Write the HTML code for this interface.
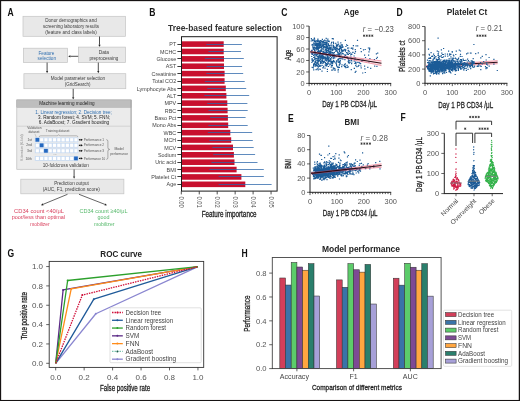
<!DOCTYPE html>
<html><head><meta charset="utf-8"><title>Figure</title>
<style>html,body{margin:0;padding:0;background:#fff;overflow:hidden}svg{display:block;will-change:transform}text{font-family:"Liberation Sans",sans-serif}</style>
</head><body>
<svg width="520" height="401" viewBox="0 0 520 401" font-family='"Liberation Sans", sans-serif'>
<rect x="0" y="0" width="520" height="401" fill="#161313"/>
<rect x="1.15" y="1.15" width="517.6" height="398.8" fill="#fff"/>
<text x="7.40" y="15.50" font-size="10.2" font-weight="bold" fill="#111" textLength="6.19" lengthAdjust="spacingAndGlyphs">A</text>
<text x="149.30" y="15.60" font-size="10.2" font-weight="bold" fill="#111" textLength="6.19" lengthAdjust="spacingAndGlyphs">B</text>
<text x="281.30" y="15.60" font-size="10.2" font-weight="bold" fill="#111" textLength="6.19" lengthAdjust="spacingAndGlyphs">C</text>
<text x="396.60" y="15.50" font-size="10.2" font-weight="bold" fill="#111" textLength="6.19" lengthAdjust="spacingAndGlyphs">D</text>
<text x="288.00" y="121.50" font-size="10.2" font-weight="bold" fill="#111" textLength="5.72" lengthAdjust="spacingAndGlyphs">E</text>
<text x="400.60" y="120.60" font-size="10.2" font-weight="bold" fill="#111" textLength="5.23" lengthAdjust="spacingAndGlyphs">F</text>
<text x="7.50" y="256.50" font-size="10.2" font-weight="bold" fill="#111" textLength="6.66" lengthAdjust="spacingAndGlyphs">G</text>
<text x="241.40" y="256.60" font-size="10.2" font-weight="bold" fill="#111" textLength="6.19" lengthAdjust="spacingAndGlyphs">H</text>
<rect x="23.00" y="16.30" width="102.50" height="20.00" fill="#e8e8e8" stroke="#c4c4c4" stroke-width="0.7" />
<text x="71.00" y="22.17" font-size="5.9" text-anchor="middle" fill="#3c3c3c" textLength="51.5" lengthAdjust="spacingAndGlyphs" >Donor demographics and</text>
<text x="71.00" y="28.27" font-size="5.9" text-anchor="middle" fill="#3c3c3c" textLength="56" lengthAdjust="spacingAndGlyphs" >screening laboratory results</text>
<text x="71.00" y="34.16" font-size="5.9" text-anchor="middle" fill="#3c3c3c" textLength="51.5" lengthAdjust="spacingAndGlyphs" >(feature and class labels)</text>
<line x1="99.50" y1="36.50" x2="99.50" y2="44.80" stroke="#222" stroke-width="0.8" /><path d="M99.50,47.00 L98.40,44.80 L100.60,44.80 Z" fill="#222"/>
<rect x="23.40" y="48.20" width="44.20" height="14.40" fill="#e8e8e8" stroke="#c4c4c4" stroke-width="0.7" />
<text x="46.50" y="54.56" font-size="5.9" text-anchor="middle" fill="#2f6fb0" textLength="15.9" lengthAdjust="spacingAndGlyphs" >Feature</text>
<text x="46.80" y="60.46" font-size="5.9" text-anchor="middle" fill="#2f6fb0" textLength="18.4" lengthAdjust="spacingAndGlyphs" >selection</text>
<rect x="78.40" y="47.10" width="47.20" height="15.50" fill="#e8e8e8" stroke="#c4c4c4" stroke-width="0.7" />
<text x="103.80" y="53.66" font-size="5.9" text-anchor="middle" fill="#3c3c3c" textLength="10.2" lengthAdjust="spacingAndGlyphs" >Data</text>
<text x="103.90" y="60.06" font-size="5.9" text-anchor="middle" fill="#3c3c3c" textLength="29" lengthAdjust="spacingAndGlyphs" >preprocessing</text>
<line x1="78.20" y1="56.30" x2="70.40" y2="56.30" stroke="#222" stroke-width="0.8" /><path d="M68.20,56.30 L70.40,55.20 L70.40,57.40 Z" fill="#222"/>
<line x1="47.10" y1="62.60" x2="47.10" y2="71.00" stroke="#222" stroke-width="0.8" /><path d="M47.10,73.20 L46.00,71.00 L48.20,71.00 Z" fill="#222"/>
<line x1="98.30" y1="62.60" x2="98.30" y2="71.00" stroke="#222" stroke-width="0.8" /><path d="M98.30,73.20 L97.20,71.00 L99.40,71.00 Z" fill="#222"/>
<rect x="23.90" y="73.70" width="101.90" height="15.00" fill="#e8e8e8" stroke="#c4c4c4" stroke-width="0.7" />
<text x="77.90" y="80.16" font-size="5.9" text-anchor="middle" fill="#3c3c3c" textLength="54.3" lengthAdjust="spacingAndGlyphs" >Model parameter selection</text>
<text x="77.60" y="86.27" font-size="5.9" text-anchor="middle" fill="#3c3c3c" textLength="25.6" lengthAdjust="spacingAndGlyphs" >(GridSearch)</text>
<line x1="73.20" y1="88.80" x2="73.20" y2="97.30" stroke="#222" stroke-width="0.8" /><path d="M73.20,99.50 L72.10,97.30 L74.30,97.30 Z" fill="#222"/>
<rect x="16.80" y="99.90" width="114.30" height="69.40" fill="#ebebeb" stroke="#bdbdbd" stroke-width="0.7" />
<rect x="16.80" y="99.90" width="114.30" height="7.40" fill="#bebebe" stroke="#a8a8a8" stroke-width="0.5" />
<line x1="131.10" y1="100.00" x2="131.10" y2="169.30" stroke="#a0a0a0" stroke-width="0.9" />
<text x="66.90" y="105.36" font-size="5.6" text-anchor="middle" fill="#222" textLength="55.4" lengthAdjust="spacingAndGlyphs" >Machine learning modeling</text>
<text x="73.60" y="113.90" font-size="5.7" text-anchor="middle" fill="#2f6fb0" textLength="76.6" lengthAdjust="spacingAndGlyphs" >1. Linear regression; 2. Decision tree;</text>
<text x="74.10" y="119.20" font-size="5.7" text-anchor="middle" fill="#222" textLength="72" lengthAdjust="spacingAndGlyphs" >3. Random forest; 4. SVM; 5. FNN;</text>
<text x="74.00" y="124.40" font-size="5.7" text-anchor="middle" fill="#222" textLength="70.4" lengthAdjust="spacingAndGlyphs" >6. AdaBoost; 7. Gradient boosting</text>
<line x1="17.00" y1="126.20" x2="131.00" y2="126.20" stroke="#c4c4c4" stroke-width="0.6" />
<text x="34.35" y="129.29" font-size="3.4" text-anchor="middle" fill="#555" textLength="14.3" lengthAdjust="spacingAndGlyphs" >Validation</text>
<text x="34.00" y="132.69" font-size="3.4" text-anchor="middle" fill="#555" textLength="11" lengthAdjust="spacingAndGlyphs" >dataset</text>
<text x="57.60" y="132.09" font-size="3.4" text-anchor="middle" fill="#555" textLength="23.7" lengthAdjust="spacingAndGlyphs" >Training dataset</text>
<line x1="34.90" y1="133.80" x2="36.30" y2="137.20" stroke="#888" stroke-width="0.35" />
<path d="M39.2,137 Q39.2,135.8 40.5,135.8 H57 Q58.3,135.8 58.6,134.6 Q58.9,135.8 60.2,135.8 H76.5 Q77.8,135.8 77.8,137" fill="none" stroke="#666" stroke-width="0.4"/>
<text transform="translate(22.20,147.60) rotate(-90)" x="0" y="1.05" font-size="3.0" text-anchor="middle" fill="#888" textLength="26.5" lengthAdjust="spacingAndGlyphs" >K iteration (K-fold)</text>
<text x="32.00" y="140.99" font-size="3.4" text-anchor="end" fill="#555" >1st</text>
<rect x="34.80" y="137.40" width="43.40" height="4.80" fill="#c9dbf2" stroke="none" stroke-width="1" />
<rect x="35.50" y="137.90" width="3.70" height="3.80" fill="#2468c0" stroke="none" stroke-width="1" />
<rect x="40.09" y="138.20" width="3.10" height="3.20" fill="#ffffff" stroke="none" stroke-width="1" />
<rect x="44.38" y="138.20" width="3.10" height="3.20" fill="#ffffff" stroke="none" stroke-width="1" />
<rect x="48.67" y="138.20" width="3.10" height="3.20" fill="#ffffff" stroke="none" stroke-width="1" />
<rect x="52.96" y="138.20" width="3.10" height="3.20" fill="#ffffff" stroke="none" stroke-width="1" />
<rect x="57.25" y="138.20" width="3.10" height="3.20" fill="#ffffff" stroke="none" stroke-width="1" />
<rect x="61.54" y="138.20" width="3.10" height="3.20" fill="#ffffff" stroke="none" stroke-width="1" />
<rect x="65.83" y="138.20" width="3.10" height="3.20" fill="#ffffff" stroke="none" stroke-width="1" />
<rect x="70.12" y="138.20" width="3.10" height="3.20" fill="#ffffff" stroke="none" stroke-width="1" />
<rect x="74.41" y="138.20" width="3.10" height="3.20" fill="#ffffff" stroke="none" stroke-width="1" />
<line x1="79.20" y1="139.80" x2="81.50" y2="139.80" stroke="#111" stroke-width="0.6" />
<path d="M82.8,139.80 L80.9,138.70 L80.9,140.90 Z M78.6,139.80 L80.2,138.90 L80.2,140.70 Z" fill="#111"/>
<text x="83.70" y="140.99" font-size="3.4" text-anchor="start" fill="#555" textLength="20.3" lengthAdjust="spacingAndGlyphs" >Performance 1</text>
<text x="32.00" y="146.49" font-size="3.4" text-anchor="end" fill="#555" >2nd</text>
<rect x="34.80" y="142.90" width="43.40" height="4.80" fill="#c9dbf2" stroke="none" stroke-width="1" />
<rect x="35.80" y="143.70" width="3.10" height="3.20" fill="#ffffff" stroke="none" stroke-width="1" />
<rect x="39.79" y="143.40" width="3.70" height="3.80" fill="#2468c0" stroke="none" stroke-width="1" />
<rect x="44.38" y="143.70" width="3.10" height="3.20" fill="#ffffff" stroke="none" stroke-width="1" />
<rect x="48.67" y="143.70" width="3.10" height="3.20" fill="#ffffff" stroke="none" stroke-width="1" />
<rect x="52.96" y="143.70" width="3.10" height="3.20" fill="#ffffff" stroke="none" stroke-width="1" />
<rect x="57.25" y="143.70" width="3.10" height="3.20" fill="#ffffff" stroke="none" stroke-width="1" />
<rect x="61.54" y="143.70" width="3.10" height="3.20" fill="#ffffff" stroke="none" stroke-width="1" />
<rect x="65.83" y="143.70" width="3.10" height="3.20" fill="#ffffff" stroke="none" stroke-width="1" />
<rect x="70.12" y="143.70" width="3.10" height="3.20" fill="#ffffff" stroke="none" stroke-width="1" />
<rect x="74.41" y="143.70" width="3.10" height="3.20" fill="#ffffff" stroke="none" stroke-width="1" />
<line x1="79.20" y1="145.30" x2="81.50" y2="145.30" stroke="#111" stroke-width="0.6" />
<path d="M82.8,145.30 L80.9,144.20 L80.9,146.40 Z M78.6,145.30 L80.2,144.40 L80.2,146.20 Z" fill="#111"/>
<text x="83.70" y="146.49" font-size="3.4" text-anchor="start" fill="#555" textLength="20.3" lengthAdjust="spacingAndGlyphs" >Performance 2</text>
<text x="32.00" y="151.99" font-size="3.4" text-anchor="end" fill="#555" >3rd</text>
<rect x="34.80" y="148.40" width="43.40" height="4.80" fill="#c9dbf2" stroke="none" stroke-width="1" />
<rect x="35.80" y="149.20" width="3.10" height="3.20" fill="#ffffff" stroke="none" stroke-width="1" />
<rect x="40.09" y="149.20" width="3.10" height="3.20" fill="#ffffff" stroke="none" stroke-width="1" />
<rect x="44.08" y="148.90" width="3.70" height="3.80" fill="#2468c0" stroke="none" stroke-width="1" />
<rect x="48.67" y="149.20" width="3.10" height="3.20" fill="#ffffff" stroke="none" stroke-width="1" />
<rect x="52.96" y="149.20" width="3.10" height="3.20" fill="#ffffff" stroke="none" stroke-width="1" />
<rect x="57.25" y="149.20" width="3.10" height="3.20" fill="#ffffff" stroke="none" stroke-width="1" />
<rect x="61.54" y="149.20" width="3.10" height="3.20" fill="#ffffff" stroke="none" stroke-width="1" />
<rect x="65.83" y="149.20" width="3.10" height="3.20" fill="#ffffff" stroke="none" stroke-width="1" />
<rect x="70.12" y="149.20" width="3.10" height="3.20" fill="#ffffff" stroke="none" stroke-width="1" />
<rect x="74.41" y="149.20" width="3.10" height="3.20" fill="#ffffff" stroke="none" stroke-width="1" />
<line x1="79.20" y1="150.80" x2="81.50" y2="150.80" stroke="#111" stroke-width="0.6" />
<path d="M82.8,150.80 L80.9,149.70 L80.9,151.90 Z M78.6,150.80 L80.2,149.90 L80.2,151.70 Z" fill="#111"/>
<text x="83.70" y="151.99" font-size="3.4" text-anchor="start" fill="#555" textLength="20.3" lengthAdjust="spacingAndGlyphs" >Performance 3</text>
<text x="32.00" y="159.59" font-size="3.4" text-anchor="end" fill="#555" >10th</text>
<rect x="34.80" y="156.00" width="43.40" height="4.80" fill="#c9dbf2" stroke="none" stroke-width="1" />
<rect x="35.80" y="156.80" width="3.10" height="3.20" fill="#ffffff" stroke="none" stroke-width="1" />
<rect x="40.09" y="156.80" width="3.10" height="3.20" fill="#ffffff" stroke="none" stroke-width="1" />
<rect x="44.38" y="156.80" width="3.10" height="3.20" fill="#ffffff" stroke="none" stroke-width="1" />
<rect x="48.67" y="156.80" width="3.10" height="3.20" fill="#ffffff" stroke="none" stroke-width="1" />
<rect x="52.96" y="156.80" width="3.10" height="3.20" fill="#ffffff" stroke="none" stroke-width="1" />
<rect x="57.25" y="156.80" width="3.10" height="3.20" fill="#ffffff" stroke="none" stroke-width="1" />
<rect x="61.54" y="156.80" width="3.10" height="3.20" fill="#ffffff" stroke="none" stroke-width="1" />
<rect x="65.83" y="156.80" width="3.10" height="3.20" fill="#ffffff" stroke="none" stroke-width="1" />
<rect x="70.12" y="156.80" width="3.10" height="3.20" fill="#ffffff" stroke="none" stroke-width="1" />
<rect x="74.11" y="156.50" width="3.70" height="3.80" fill="#2468c0" stroke="none" stroke-width="1" />
<line x1="79.20" y1="158.40" x2="81.50" y2="158.40" stroke="#111" stroke-width="0.6" />
<path d="M82.8,158.40 L80.9,157.30 L80.9,159.50 Z M78.6,158.40 L80.2,157.50 L80.2,159.30 Z" fill="#111"/>
<text x="83.70" y="159.59" font-size="3.4" text-anchor="start" fill="#555" textLength="21.5" lengthAdjust="spacingAndGlyphs" >Performance 10</text>
<text x="55.00" y="154.81" font-size="2.6" text-anchor="middle" fill="#777" >.....</text>
<path d="M106.3,139.6 Q107.9,139.6 107.9,141.4 V147.6 Q107.9,149.4 109.7,149.4 Q107.9,149.4 107.9,151.2 V157.6 Q107.9,159.4 106.3,159.4" fill="none" stroke="#555" stroke-width="0.45"/>
<text x="119.10" y="150.22" font-size="3.5" text-anchor="middle" fill="#555" textLength="9.4" lengthAdjust="spacingAndGlyphs" >Model</text>
<text x="119.20" y="154.82" font-size="3.5" text-anchor="middle" fill="#555" textLength="17.9" lengthAdjust="spacingAndGlyphs" >performance</text>
<text x="65.80" y="166.96" font-size="5.6" text-anchor="middle" fill="#3c3c3c" textLength="46.2" lengthAdjust="spacingAndGlyphs" >10-foldcross validation</text>
<line x1="74.10" y1="169.40" x2="74.10" y2="176.60" stroke="#222" stroke-width="0.8" /><path d="M74.10,178.80 L73.00,176.60 L75.20,176.60 Z" fill="#222"/>
<rect x="20.80" y="179.20" width="103.10" height="14.60" fill="#e8e8e8" stroke="#c4c4c4" stroke-width="0.7" />
<text x="71.50" y="185.36" font-size="5.6" text-anchor="middle" fill="#3c3c3c" textLength="34.6" lengthAdjust="spacingAndGlyphs" >Prediction output</text>
<text x="71.30" y="191.46" font-size="5.6" text-anchor="middle" fill="#3c3c3c" textLength="57.2" lengthAdjust="spacingAndGlyphs" >(AUC, F1, prediction score)</text>
<line x1="67.50" y1="194.30" x2="43.03" y2="204.36" stroke="#222" stroke-width="0.7" /><path d="M41.00,205.20 L42.62,203.35 L43.45,205.38 Z" fill="#222"/>
<line x1="79.00" y1="194.30" x2="104.95" y2="204.40" stroke="#222" stroke-width="0.7" /><path d="M107.00,205.20 L104.55,205.43 L105.35,203.38 Z" fill="#222"/>
<text x="39.00" y="212.57" font-size="6.2" text-anchor="middle" fill="#d9415e" textLength="49.8" lengthAdjust="spacingAndGlyphs" >CD34 count &lt;40/μL</text>
<text x="38.40" y="219.27" font-size="6.2" text-anchor="middle" fill="#d9415e" textLength="53.4" lengthAdjust="spacingAndGlyphs" >poor/less than optimal</text>
<text x="39.90" y="225.77" font-size="6.2" text-anchor="middle" fill="#d9415e" textLength="19.3" lengthAdjust="spacingAndGlyphs" >mobilizer</text>
<text x="103.50" y="212.57" font-size="6.2" text-anchor="middle" fill="#55b86a" textLength="48.1" lengthAdjust="spacingAndGlyphs" >CD34 count ≥40/μL</text>
<text x="103.50" y="219.27" font-size="6.2" text-anchor="middle" fill="#55b86a" textLength="12" lengthAdjust="spacingAndGlyphs" >good</text>
<text x="104.20" y="225.77" font-size="6.2" text-anchor="middle" fill="#55b86a" textLength="20.5" lengthAdjust="spacingAndGlyphs" >mobilizer</text>
<text x="168.00" y="30.79" font-size="8.4" text-anchor="start" fill="#333" font-weight="bold" textLength="114" lengthAdjust="spacingAndGlyphs" >Tree-based feature selection</text>
<rect x="181.60" y="41.30" width="42.10" height="5.60" fill="#c8102e" stroke="none" stroke-width="1" />
<line x1="206.30" y1="44.50" x2="241.90" y2="44.50" stroke="#2a64a8" stroke-width="1.0" stroke-opacity="0.75"/>
<line x1="177.40" y1="44.50" x2="181.60" y2="44.50" stroke="#222" stroke-width="0.9" />
<text x="176.20" y="46.23" font-size="6.1" text-anchor="end" fill="#444" textLength="6.89" lengthAdjust="spacingAndGlyphs" >PT</text>
<rect x="181.60" y="48.68" width="42.10" height="5.60" fill="#c8102e" stroke="none" stroke-width="1" />
<line x1="208.40" y1="51.50" x2="241.00" y2="51.50" stroke="#2a64a8" stroke-width="1.0" stroke-opacity="0.75"/>
<line x1="177.40" y1="51.50" x2="181.60" y2="51.50" stroke="#222" stroke-width="0.9" />
<text x="176.20" y="53.62" font-size="6.1" text-anchor="end" fill="#444" textLength="16.18" lengthAdjust="spacingAndGlyphs" >MCHC</text>
<rect x="181.60" y="56.06" width="42.40" height="5.60" fill="#c8102e" stroke="none" stroke-width="1" />
<line x1="204.80" y1="58.50" x2="243.80" y2="58.50" stroke="#2a64a8" stroke-width="1.0" stroke-opacity="0.75"/>
<line x1="177.40" y1="58.50" x2="181.60" y2="58.50" stroke="#222" stroke-width="0.9" />
<text x="176.20" y="60.99" font-size="6.1" text-anchor="end" fill="#444" textLength="19.79" lengthAdjust="spacingAndGlyphs" >Glucose</text>
<rect x="181.60" y="63.44" width="42.40" height="5.60" fill="#c8102e" stroke="none" stroke-width="1" />
<line x1="206.60" y1="66.50" x2="242.10" y2="66.50" stroke="#2a64a8" stroke-width="1.0" stroke-opacity="0.75"/>
<line x1="177.40" y1="66.50" x2="181.60" y2="66.50" stroke="#222" stroke-width="0.9" />
<text x="176.20" y="68.38" font-size="6.1" text-anchor="end" fill="#444" textLength="10.49" lengthAdjust="spacingAndGlyphs" >AST</text>
<rect x="181.60" y="70.82" width="43.00" height="5.60" fill="#c8102e" stroke="none" stroke-width="1" />
<line x1="206.30" y1="73.50" x2="243.20" y2="73.50" stroke="#2a64a8" stroke-width="1.0" stroke-opacity="0.75"/>
<line x1="177.40" y1="73.50" x2="181.60" y2="73.50" stroke="#222" stroke-width="0.9" />
<text x="176.20" y="75.76" font-size="6.1" text-anchor="end" fill="#444" textLength="24.58" lengthAdjust="spacingAndGlyphs" >Creatinine</text>
<rect x="181.60" y="78.20" width="43.00" height="5.60" fill="#c8102e" stroke="none" stroke-width="1" />
<line x1="204.80" y1="81.50" x2="244.70" y2="81.50" stroke="#2a64a8" stroke-width="1.0" stroke-opacity="0.75"/>
<line x1="177.40" y1="81.50" x2="181.60" y2="81.50" stroke="#222" stroke-width="0.9" />
<text x="176.20" y="83.14" font-size="6.1" text-anchor="end" fill="#444" textLength="23.98" lengthAdjust="spacingAndGlyphs" >Total CO2</text>
<rect x="181.60" y="85.58" width="44.20" height="5.60" fill="#c8102e" stroke="none" stroke-width="1" />
<line x1="207.20" y1="88.50" x2="246.20" y2="88.50" stroke="#2a64a8" stroke-width="1.0" stroke-opacity="0.75"/>
<line x1="177.40" y1="88.50" x2="181.60" y2="88.50" stroke="#222" stroke-width="0.9" />
<text x="176.20" y="90.52" font-size="6.1" text-anchor="end" fill="#444" textLength="39.38" lengthAdjust="spacingAndGlyphs" >Lymphocyte Abs</text>
<rect x="181.60" y="92.96" width="44.80" height="5.60" fill="#c8102e" stroke="none" stroke-width="1" />
<line x1="204.30" y1="95.50" x2="249.20" y2="95.50" stroke="#2a64a8" stroke-width="1.0" stroke-opacity="0.75"/>
<line x1="177.40" y1="95.50" x2="181.60" y2="95.50" stroke="#222" stroke-width="0.9" />
<text x="176.20" y="97.89" font-size="6.1" text-anchor="end" fill="#444" textLength="9.49" lengthAdjust="spacingAndGlyphs" >ALT</text>
<rect x="181.60" y="100.34" width="45.70" height="5.60" fill="#c8102e" stroke="none" stroke-width="1" />
<line x1="207.20" y1="103.50" x2="247.40" y2="103.50" stroke="#2a64a8" stroke-width="1.0" stroke-opacity="0.75"/>
<line x1="177.40" y1="103.50" x2="181.60" y2="103.50" stroke="#222" stroke-width="0.9" />
<text x="176.20" y="105.28" font-size="6.1" text-anchor="end" fill="#444" textLength="11.69" lengthAdjust="spacingAndGlyphs" >MPV</text>
<rect x="181.60" y="107.72" width="46.00" height="5.60" fill="#c8102e" stroke="none" stroke-width="1" />
<line x1="208.40" y1="110.50" x2="247.70" y2="110.50" stroke="#2a64a8" stroke-width="1.0" stroke-opacity="0.75"/>
<line x1="177.40" y1="110.50" x2="181.60" y2="110.50" stroke="#222" stroke-width="0.9" />
<text x="176.20" y="112.66" font-size="6.1" text-anchor="end" fill="#444" textLength="11.39" lengthAdjust="spacingAndGlyphs" >RBC</text>
<rect x="181.60" y="115.10" width="46.30" height="5.60" fill="#c8102e" stroke="none" stroke-width="1" />
<line x1="210.20" y1="117.50" x2="245.60" y2="117.50" stroke="#2a64a8" stroke-width="1.0" stroke-opacity="0.75"/>
<line x1="177.40" y1="117.50" x2="181.60" y2="117.50" stroke="#222" stroke-width="0.9" />
<text x="176.20" y="120.04" font-size="6.1" text-anchor="end" fill="#444" textLength="21.59" lengthAdjust="spacingAndGlyphs" >Baso Pct</text>
<rect x="181.60" y="122.48" width="46.60" height="5.60" fill="#c8102e" stroke="none" stroke-width="1" />
<line x1="208.40" y1="125.50" x2="247.70" y2="125.50" stroke="#2a64a8" stroke-width="1.0" stroke-opacity="0.75"/>
<line x1="177.40" y1="125.50" x2="181.60" y2="125.50" stroke="#222" stroke-width="0.9" />
<text x="176.20" y="127.42" font-size="6.1" text-anchor="end" fill="#444" textLength="23.99" lengthAdjust="spacingAndGlyphs" >Mono Abs</text>
<rect x="181.60" y="129.86" width="48.70" height="5.60" fill="#c8102e" stroke="none" stroke-width="1" />
<line x1="207.80" y1="132.50" x2="252.20" y2="132.50" stroke="#2a64a8" stroke-width="1.0" stroke-opacity="0.75"/>
<line x1="177.40" y1="132.50" x2="181.60" y2="132.50" stroke="#222" stroke-width="0.9" />
<text x="176.20" y="134.79" font-size="6.1" text-anchor="end" fill="#444" textLength="12.58" lengthAdjust="spacingAndGlyphs" >WBC</text>
<rect x="181.60" y="137.24" width="49.60" height="5.60" fill="#c8102e" stroke="none" stroke-width="1" />
<line x1="209.30" y1="140.50" x2="252.80" y2="140.50" stroke="#2a64a8" stroke-width="1.0" stroke-opacity="0.75"/>
<line x1="177.40" y1="140.50" x2="181.60" y2="140.50" stroke="#222" stroke-width="0.9" />
<text x="176.20" y="142.17" font-size="6.1" text-anchor="end" fill="#444" textLength="12.28" lengthAdjust="spacingAndGlyphs" >MCH</text>
<rect x="181.60" y="144.62" width="51.40" height="5.60" fill="#c8102e" stroke="none" stroke-width="1" />
<line x1="212.30" y1="147.50" x2="253.70" y2="147.50" stroke="#2a64a8" stroke-width="1.0" stroke-opacity="0.75"/>
<line x1="177.40" y1="147.50" x2="181.60" y2="147.50" stroke="#222" stroke-width="0.9" />
<text x="176.20" y="149.55" font-size="6.1" text-anchor="end" fill="#444" textLength="11.99" lengthAdjust="spacingAndGlyphs" >MCV</text>
<rect x="181.60" y="152.00" width="52.30" height="5.60" fill="#c8102e" stroke="none" stroke-width="1" />
<line x1="213.20" y1="154.50" x2="255.10" y2="154.50" stroke="#2a64a8" stroke-width="1.0" stroke-opacity="0.75"/>
<line x1="177.40" y1="154.50" x2="181.60" y2="154.50" stroke="#222" stroke-width="0.9" />
<text x="176.20" y="156.94" font-size="6.1" text-anchor="end" fill="#444" textLength="18.29" lengthAdjust="spacingAndGlyphs" >Sodium</text>
<rect x="181.60" y="159.38" width="52.90" height="5.60" fill="#c8102e" stroke="none" stroke-width="1" />
<line x1="211.40" y1="162.50" x2="257.50" y2="162.50" stroke="#2a64a8" stroke-width="1.0" stroke-opacity="0.75"/>
<line x1="177.40" y1="162.50" x2="181.60" y2="162.50" stroke="#222" stroke-width="0.9" />
<text x="176.20" y="164.31" font-size="6.1" text-anchor="end" fill="#444" textLength="20.98" lengthAdjust="spacingAndGlyphs" >Uric acid</text>
<rect x="181.60" y="166.76" width="55.00" height="5.60" fill="#c8102e" stroke="none" stroke-width="1" />
<line x1="209.30" y1="169.50" x2="263.80" y2="169.50" stroke="#2a64a8" stroke-width="1.0" stroke-opacity="0.75"/>
<line x1="177.40" y1="169.50" x2="181.60" y2="169.50" stroke="#222" stroke-width="0.9" />
<text x="176.20" y="171.69" font-size="6.1" text-anchor="end" fill="#444" textLength="9.59" lengthAdjust="spacingAndGlyphs" >BMI</text>
<rect x="181.60" y="174.14" width="59.80" height="5.60" fill="#c8102e" stroke="none" stroke-width="1" />
<line x1="218.60" y1="176.50" x2="263.80" y2="176.50" stroke="#2a64a8" stroke-width="1.0" stroke-opacity="0.75"/>
<line x1="177.40" y1="176.50" x2="181.60" y2="176.50" stroke="#222" stroke-width="0.9" />
<text x="176.20" y="179.07" font-size="6.1" text-anchor="end" fill="#444" textLength="24.88" lengthAdjust="spacingAndGlyphs" >Platelet Ct</text>
<rect x="181.60" y="181.52" width="63.70" height="5.60" fill="#c8102e" stroke="none" stroke-width="1" />
<line x1="218.60" y1="184.50" x2="271.60" y2="184.50" stroke="#2a64a8" stroke-width="1.0" stroke-opacity="0.75"/>
<line x1="177.40" y1="184.50" x2="181.60" y2="184.50" stroke="#222" stroke-width="0.9" />
<text x="176.20" y="186.45" font-size="6.1" text-anchor="end" fill="#444" textLength="9.6" lengthAdjust="spacingAndGlyphs" >Age</text>
<rect x="181.50" y="36.70" width="95.60" height="154.40" fill="none" stroke="#1a1a1a" stroke-width="1.0" />
<line x1="181.30" y1="191.20" x2="181.30" y2="194.40" stroke="#222" stroke-width="0.8" />
<text transform="translate(181.30,202.10) rotate(90)" x="0" y="2.20" font-size="6.3" text-anchor="middle" fill="#555" textLength="11.2" lengthAdjust="spacingAndGlyphs" >0.00</text>
<line x1="199.25" y1="191.20" x2="199.25" y2="194.40" stroke="#222" stroke-width="0.8" />
<text transform="translate(199.25,202.10) rotate(90)" x="0" y="2.20" font-size="6.3" text-anchor="middle" fill="#555" textLength="11.2" lengthAdjust="spacingAndGlyphs" >0.01</text>
<line x1="217.20" y1="191.20" x2="217.20" y2="194.40" stroke="#222" stroke-width="0.8" />
<text transform="translate(217.20,202.10) rotate(90)" x="0" y="2.20" font-size="6.3" text-anchor="middle" fill="#555" textLength="11.2" lengthAdjust="spacingAndGlyphs" >0.02</text>
<line x1="235.15" y1="191.20" x2="235.15" y2="194.40" stroke="#222" stroke-width="0.8" />
<text transform="translate(235.15,202.10) rotate(90)" x="0" y="2.20" font-size="6.3" text-anchor="middle" fill="#555" textLength="11.2" lengthAdjust="spacingAndGlyphs" >0.03</text>
<line x1="253.10" y1="191.20" x2="253.10" y2="194.40" stroke="#222" stroke-width="0.8" />
<text transform="translate(253.10,202.10) rotate(90)" x="0" y="2.20" font-size="6.3" text-anchor="middle" fill="#555" textLength="11.2" lengthAdjust="spacingAndGlyphs" >0.04</text>
<line x1="271.05" y1="191.20" x2="271.05" y2="194.40" stroke="#222" stroke-width="0.8" />
<text transform="translate(271.05,202.10) rotate(90)" x="0" y="2.20" font-size="6.3" text-anchor="middle" fill="#555" textLength="11.2" lengthAdjust="spacingAndGlyphs" >0.05</text>
<text x="229.15" y="216.87" font-size="8.2" text-anchor="middle" fill="#222" textLength="54.9" lengthAdjust="spacingAndGlyphs" stroke="#222" stroke-width="0.28">Feature importance</text>
<path d="M327.8 55.8h0M324.4 57.7h0M322.5 42.8h0M328.6 49.1h0M322.1 63.2h0M334.9 47.3h0M329.2 41.7h0M327.4 71.5h0M315.5 44.0h0M313.2 48.3h0M316.0 60.9h0M329.9 48.3h0M327.1 52.3h0M314.5 50.3h0M329.7 45.5h0M319.2 53.4h0M319.2 66.4h0M342.0 46.9h0M326.3 52.5h0M328.6 54.0h0M328.8 61.7h0M314.4 38.2h0M329.4 49.1h0M369.0 62.0h0M316.4 58.5h0M336.4 64.0h0M338.3 67.0h0M338.0 59.8h0M320.4 61.3h0M322.4 58.5h0M316.5 48.6h0M325.3 54.9h0M347.4 54.2h0M319.3 55.8h0M312.6 61.1h0M326.5 42.2h0M338.4 54.5h0M323.4 52.5h0M356.1 63.9h0M324.1 57.9h0M326.2 48.9h0M316.9 56.0h0M322.6 53.9h0M337.7 55.0h0M338.0 67.4h0M345.4 40.3h0M336.5 56.6h0M332.7 62.9h0M312.5 40.7h0M318.5 43.3h0M376.5 58.5h0M320.8 45.0h0M335.0 70.4h0M325.2 57.0h0M335.4 51.1h0M326.7 44.6h0M317.3 47.7h0M318.8 48.2h0M330.4 56.4h0M321.2 50.5h0M312.6 53.7h0M332.9 52.5h0M341.3 50.1h0M339.6 53.5h0M340.0 48.0h0M314.5 63.3h0M354.1 56.0h0M324.4 58.2h0M317.9 46.7h0M321.6 57.5h0M319.4 55.7h0M315.9 42.6h0M325.8 65.6h0M327.9 62.6h0M323.8 53.5h0M327.9 39.1h0M324.1 61.3h0M319.2 40.9h0M320.4 54.2h0M332.5 54.4h0M314.9 53.5h0M320.8 42.3h0M339.2 46.3h0M328.7 45.9h0M334.4 61.9h0M326.0 45.7h0M316.3 48.7h0M322.0 56.4h0M327.3 42.9h0M322.0 46.0h0M324.1 57.5h0M328.1 41.3h0M338.2 62.2h0M321.4 57.3h0M343.3 53.8h0M326.0 54.7h0M340.1 52.3h0M342.7 50.4h0M355.9 71.3h0M341.6 49.4h0M341.8 51.4h0M355.2 72.4h0M313.8 60.0h0M317.6 41.3h0M341.2 47.8h0M312.3 45.1h0M328.3 51.1h0M328.3 53.9h0M314.6 49.8h0M317.9 62.9h0M335.2 55.5h0M333.6 57.9h0M320.5 63.2h0M318.6 58.0h0M319.4 60.3h0M332.6 50.1h0M315.2 51.2h0M326.6 59.1h0M314.9 45.5h0M339.3 50.1h0M328.8 51.4h0M347.6 45.5h0M312.0 53.3h0M312.7 46.8h0M320.3 57.5h0M351.6 60.5h0M316.5 40.8h0M347.0 56.9h0M328.4 44.7h0M328.3 44.4h0M336.0 62.7h0M317.4 47.8h0M320.3 65.9h0M315.9 64.1h0M327.7 64.3h0M361.2 67.8h0M322.4 39.4h0M333.2 67.8h0M331.2 62.1h0M328.9 57.0h0M324.5 52.6h0M348.3 50.9h0M327.7 57.5h0M321.5 55.8h0M343.6 50.2h0M338.0 61.1h0M330.7 64.1h0M325.2 60.1h0M355.8 65.6h0M327.0 47.7h0M320.7 44.8h0M335.2 48.9h0M323.6 52.1h0M326.9 46.6h0M323.1 51.6h0M325.0 58.8h0M314.2 63.9h0M318.9 56.4h0M319.5 44.7h0M324.0 51.0h0M330.4 48.4h0M317.8 61.5h0M369.5 49.9h0M325.3 59.3h0M332.3 38.6h0M317.0 49.1h0M318.4 51.3h0M356.1 45.8h0M336.0 48.8h0M325.3 49.7h0M315.4 58.4h0M355.0 59.5h0M318.2 58.1h0M322.0 71.1h0M325.2 58.2h0M331.9 61.7h0M327.2 57.3h0M326.7 50.3h0M365.3 72.5h0M328.5 66.5h0M333.3 42.0h0M315.1 54.4h0M338.7 49.4h0M313.7 57.5h0M320.3 56.8h0M376.9 66.3h0M319.5 43.3h0M327.0 64.5h0M316.7 45.7h0M316.7 40.8h0M345.6 55.7h0M322.3 55.8h0M326.1 58.8h0M323.7 62.7h0M315.0 58.8h0M325.4 42.6h0M344.3 56.7h0M319.4 47.9h0M333.4 45.5h0M344.9 59.7h0M316.3 64.9h0M340.5 48.0h0M312.9 53.1h0M336.8 51.0h0M323.2 53.5h0M316.8 54.3h0M325.6 50.1h0M320.6 59.0h0M313.9 49.0h0M344.0 65.3h0M345.8 67.7h0M317.4 43.2h0M322.4 57.0h0M321.7 50.1h0M324.1 44.4h0M315.8 53.4h0M342.0 64.8h0M327.8 48.7h0M317.9 66.3h0M321.9 54.6h0M319.5 52.8h0M325.0 68.1h0M336.6 65.1h0M336.9 54.5h0M317.1 48.7h0M328.4 57.0h0M318.4 57.6h0M313.6 55.5h0M317.2 54.2h0M327.0 48.6h0M314.5 41.6h0M319.8 60.8h0M333.2 46.9h0M320.0 42.7h0M319.7 60.4h0M317.9 45.0h0M313.2 40.6h0M323.9 42.5h0M327.4 54.6h0M328.4 50.3h0M317.5 44.0h0M317.6 60.5h0M339.4 56.5h0M318.0 58.9h0M323.5 41.8h0M317.2 48.5h0M317.2 65.6h0M314.6 41.3h0M352.8 52.4h0M323.0 63.0h0M313.0 47.0h0M327.4 50.7h0M326.6 58.7h0M326.9 55.4h0M350.6 53.0h0M326.0 47.5h0M326.9 58.0h0M319.8 65.1h0M317.4 64.0h0M326.4 42.9h0M325.5 48.0h0M318.1 44.4h0M321.6 56.9h0M327.7 52.5h0M328.6 58.5h0M320.9 46.2h0M312.4 54.4h0M329.8 54.5h0M322.8 46.9h0M317.9 46.7h0M321.5 57.8h0M316.3 63.1h0M329.7 64.9h0M322.6 57.6h0M313.9 39.4h0M331.1 53.8h0M333.2 45.2h0M324.6 53.1h0M334.0 61.3h0M314.6 51.1h0M347.9 52.8h0M331.0 58.3h0M343.2 47.0h0M314.7 54.1h0M320.7 66.2h0M323.4 49.1h0M361.9 61.1h0M326.4 63.9h0M316.0 65.8h0M333.9 55.8h0M329.2 57.7h0M319.5 51.0h0M339.1 62.5h0M345.8 49.8h0M324.0 54.4h0M317.7 60.2h0M336.5 46.2h0M332.1 52.3h0M323.4 51.9h0M318.8 58.3h0M323.8 45.6h0M333.2 58.6h0M327.6 47.2h0M335.8 47.4h0M360.7 48.5h0M332.2 50.4h0M340.2 60.7h0M327.2 47.4h0M367.8 67.4h0M327.1 40.6h0M351.8 54.5h0M354.8 63.5h0M325.4 62.5h0M340.1 58.1h0M314.6 47.7h0M332.5 63.6h0M314.5 38.4h0M335.0 56.7h0M322.3 41.3h0M324.8 44.3h0M318.4 52.6h0M330.6 54.7h0M338.1 70.2h0M318.3 67.8h0M323.6 47.6h0M330.7 52.7h0M320.8 44.1h0M348.8 61.0h0M369.0 51.8h0M330.8 60.9h0M326.2 38.4h0M329.3 52.9h0M319.1 57.9h0M315.0 50.8h0M319.6 47.7h0M330.7 49.7h0M323.8 42.7h0M318.6 45.4h0M317.6 56.3h0M327.4 56.9h0M323.6 45.2h0M338.6 44.2h0M317.5 60.0h0M352.8 49.2h0M326.3 60.6h0M370.7 68.3h0M323.4 62.9h0M335.0 55.7h0M322.0 58.9h0M360.9 66.0h0M338.3 69.4h0M320.0 51.6h0M325.4 47.5h0M338.2 72.0h0M313.8 48.4h0M319.8 52.8h0M321.0 62.0h0M311.7 56.5h0M331.3 43.9h0M368.4 48.0h0M313.3 45.2h0M316.3 60.0h0M328.8 40.8h0M332.6 63.7h0M331.9 62.4h0M324.0 52.4h0M321.6 46.5h0M313.8 47.4h0M364.6 55.1h0M351.3 69.6h0M320.4 47.7h0M327.0 40.4h0M324.2 52.9h0M322.7 58.2h0M317.1 49.1h0M377.7 53.2h0M324.8 52.5h0M338.7 58.8h0M325.2 59.1h0M331.5 54.9h0M356.9 66.7h0M328.9 63.5h0M355.3 49.7h0M320.4 63.5h0M337.9 52.3h0M353.0 52.4h0M339.5 61.5h0M320.5 51.5h0M323.4 58.6h0M320.6 45.4h0M332.1 49.7h0M325.3 40.8h0M319.7 53.2h0M316.3 52.6h0M320.6 40.6h0M327.1 50.5h0M338.5 53.1h0M332.8 70.0h0M337.4 45.4h0M349.4 53.4h0M333.4 38.8h0M314.9 61.8h0M324.6 61.8h0M315.4 62.4h0M329.2 51.0h0M313.7 69.9h0M326.6 60.8h0M329.0 49.0h0M336.0 63.4h0M327.3 56.4h0M337.5 66.9h0M322.4 41.5h0M340.1 63.7h0M322.2 55.0h0M317.9 40.4h0M322.3 44.9h0M314.9 47.1h0M329.8 47.2h0M313.4 67.9h0M340.4 47.4h0M326.8 45.5h0M337.3 49.2h0M316.6 48.6h0M354.3 68.4h0M347.7 67.1h0M343.1 51.1h0M325.8 53.4h0M339.8 54.2h0M326.7 64.9h0M348.8 58.7h0M313.6 66.1h0M328.0 50.6h0M351.2 59.1h0M340.6 46.1h0M341.7 66.7h0M339.9 55.9h0M329.8 65.0h0M318.3 49.6h0M334.5 49.2h0M322.7 58.3h0M324.4 44.0h0M326.1 52.0h0M327.5 58.4h0M318.0 40.9h0M337.9 59.4h0M330.2 48.5h0M347.1 65.3h0M369.7 48.7h0M339.3 65.2h0M329.1 48.9h0M315.6 53.6h0M327.1 52.3h0M330.3 50.0h0M331.6 65.5h0M328.2 61.6h0M321.8 60.7h0M342.3 47.4h0M329.8 60.8h0M345.1 55.3h0M320.1 58.0h0M332.1 65.9h0M348.3 50.3h0M348.4 54.5h0M317.0 47.1h0M326.5 43.4h0M323.5 45.4h0M348.4 60.0h0M333.6 60.5h0M320.7 50.2h0M327.3 64.0h0M322.1 65.3h0M328.2 43.5h0M322.8 53.6h0M330.7 54.9h0M348.6 62.6h0M377.3 57.3h0M340.6 48.5h0M364.9 68.8h0M337.9 44.7h0M339.2 45.8h0M334.4 47.2h0M326.8 44.6h0M311.9 50.6h0M317.5 51.5h0M325.0 47.8h0M333.1 61.4h0M318.4 50.5h0M327.4 69.3h0M325.8 65.7h0M326.0 51.5h0M328.0 54.6h0M336.3 50.7h0M323.7 40.9h0M325.7 43.1h0M318.5 46.9h0M323.1 44.1h0M319.1 48.1h0M333.4 42.4h0M369.6 48.0h0M362.7 73.0h0M320.5 56.7h0M334.1 48.7h0M328.4 60.4h0M313.3 60.3h0M312.0 44.9h0M319.9 69.2h0M325.1 57.1h0M315.0 45.5h0M317.3 58.0h0M318.0 51.9h0M317.3 68.8h0M315.3 48.8h0M323.9 51.0h0M336.3 62.0h0M330.4 58.6h0M317.9 39.2h0M324.8 46.6h0M327.2 58.8h0M312.7 44.5h0M342.0 58.1h0M319.4 43.1h0M315.3 53.8h0M358.4 66.2h0M317.0 62.7h0M323.0 52.1h0M319.1 42.2h0M342.0 47.2h0M323.3 51.8h0M314.4 47.1h0M311.9 62.4h0M320.8 56.0h0M365.2 49.5h0M316.7 47.6h0M347.6 58.5h0M318.1 43.6h0M324.5 42.5h0M330.0 45.7h0M325.1 54.1h0M312.2 50.2h0M320.0 59.6h0M330.8 59.0h0M320.7 53.8h0M332.7 56.7h0M314.9 59.5h0M316.5 45.1h0M325.2 53.0h0M325.1 47.6h0M339.4 67.3h0M322.6 60.1h0M327.1 57.7h0M325.5 42.8h0M333.0 53.3h0M332.8 62.5h0M326.2 49.9h0M339.6 48.1h0M351.7 54.0h0M319.7 45.3h0M320.4 51.0h0M320.0 54.9h0M319.4 45.3h0M319.9 41.7h0M327.2 46.6h0M337.6 53.0h0M319.6 56.2h0M332.2 62.5h0M321.9 41.4h0M333.4 47.5h0M329.6 60.7h0M337.1 51.5h0M317.3 54.3h0M318.1 53.9h0M329.0 52.9h0M318.9 60.7h0M325.7 54.3h0M345.3 63.9h0M319.1 60.9h0M318.3 47.8h0M328.4 58.8h0M323.3 45.4h0M335.2 69.0h0M324.7 56.9h0M316.7 46.7h0M312.0 60.1h0M330.8 51.3h0M319.2 55.8h0M327.7 50.5h0M313.0 44.4h0M318.8 41.2h0M330.9 63.9h0M342.3 44.8h0M342.8 57.4h0M347.2 57.7h0M325.9 65.7h0M340.9 58.9h0M330.6 53.2h0M323.4 42.0h0M321.3 41.0h0M318.6 58.4h0M342.1 51.9h0M326.7 52.6h0M319.0 50.9h0M324.7 40.1h0M362.0 60.7h0M314.7 40.1h0M314.9 44.1h0M350.9 57.2h0M314.6 57.4h0M349.9 60.7h0M320.4 59.4h0M331.7 48.1h0M348.2 50.6h0M348.2 66.8h0M337.9 44.4h0M326.1 52.4h0M323.2 67.6h0M323.5 44.1h0M354.2 61.1h0M330.8 61.5h0M345.6 66.3h0M311.4 38.7h0M322.5 63.2h0M330.5 54.2h0M322.2 60.3h0M369.9 58.5h0M316.2 55.3h0M333.9 48.8h0M340.2 48.6h0M318.3 48.8h0M339.9 62.4h0M332.4 65.3h0M351.3 48.3h0M352.8 48.1h0M326.2 46.9h0M342.2 46.2h0M332.4 49.2h0M321.7 50.7h0M336.5 60.8h0M333.8 61.3h0M356.0 62.4h0M314.7 57.9h0M315.0 56.2h0M318.9 56.1h0M336.6 65.9h0M344.4 57.4h0M325.3 64.9h0M330.1 45.4h0M327.3 46.3h0M313.7 49.4h0M318.4 44.9h0M341.2 53.2h0M339.9 63.9h0M346.5 52.5h0M337.2 50.9h0M311.2 41.0h0M330.8 59.3h0M331.8 70.1h0M315.1 41.2h0M363.5 49.8h0M325.1 42.7h0M342.0 51.7h0M338.9 53.7h0M335.8 43.3h0M351.6 63.7h0M325.2 59.1h0M342.0 50.8h0M333.3 61.4h0M315.8 45.4h0M320.1 54.6h0M316.0 43.6h0M314.0 43.1h0M333.6 55.7h0M314.7 43.9h0M342.6 53.7h0M323.8 46.5h0M323.7 66.3h0M315.7 61.1h0M332.0 52.4h0M317.8 47.9h0M336.4 44.9h0M337.2 46.9h0M313.4 60.9h0M333.7 46.4h0M312.2 59.4h0M339.5 51.3h0M312.0 52.9h0M316.8 48.1h0M349.3 63.2h0M329.8 53.7h0M337.3 48.5h0M311.3 52.9h0M338.7 59.7h0M318.4 64.1h0M357.8 62.4h0M327.5 46.0h0M325.6 57.1h0M313.7 65.2h0M317.8 56.4h0M326.4 54.1h0M350.7 54.9h0M348.7 48.0h0M323.7 41.6h0M316.1 47.8h0M315.6 41.7h0M358.9 65.3h0M330.9 59.0h0M316.7 48.1h0M354.4 68.3h0M334.8 58.0h0M338.7 55.8h0M340.4 52.8h0M331.7 61.4h0M321.3 56.7h0M313.6 64.7h0M315.1 44.5h0M318.0 47.3h0M334.4 52.6h0M319.2 53.9h0M339.4 64.9h0M341.4 47.6h0M354.7 53.3h0M355.5 51.6h0M357.5 40.3h0M330.1 51.7h0M329.1 61.3h0M320.3 52.3h0M330.8 62.2h0M328.8 48.8h0M320.0 57.6h0M312.9 53.2h0M351.5 48.0h0M335.6 49.3h0M317.4 47.7h0M321.9 53.6h0M339.5 46.0h0M321.3 43.9h0M331.7 57.3h0M344.9 49.4h0M341.2 54.9h0M325.6 57.6h0M318.4 61.2h0M323.1 54.9h0M339.4 55.4h0M325.3 50.2h0M359.2 62.6h0M363.0 60.1h0M355.3 63.2h0M338.9 67.3h0M316.2 44.2h0M360.6 63.7h0M339.8 58.3h0M320.4 43.9h0M318.6 44.4h0M320.8 40.5h0M329.8 55.4h0M314.9 44.3h0M348.2 61.6h0M323.4 57.4h0M336.1 49.2h0M313.6 52.6h0M345.9 46.5h0M344.7 64.6h0M326.3 66.0h0M316.3 43.7h0M355.6 62.2h0M322.8 51.9h0M322.5 45.5h0M318.2 60.2h0M315.8 41.3h0M326.4 51.8h0M327.7 58.8h0M322.5 60.0h0M316.7 50.0h0M355.1 57.8h0M357.7 45.8h0M318.4 61.6h0M350.0 62.4h0M327.8 57.7h0M326.3 51.4h0M368.6 55.2h0M365.5 57.5h0M322.1 48.6h0M337.8 52.5h0M320.3 69.5h0M313.6 64.2h0M340.8 42.9h0M333.3 56.3h0M338.0 42.1h0M374.7 66.1h0M323.4 56.4h0M333.8 68.8h0M328.8 59.6h0M312.5 54.4h0M324.2 57.7h0M313.8 55.1h0M327.2 59.9h0M316.6 56.0h0M316.1 69.6h0M351.8 62.0h0M321.8 41.7h0M323.1 61.5h0M330.9 47.7h0M311.9 54.2h0M317.5 46.2h0M318.7 57.9h0M332.1 55.7h0M329.4 52.8h0M319.7 46.3h0M360.1 63.3h0M320.6 62.6h0M318.4 64.7h0M331.6 42.4h0M319.0 51.2h0M347.2 67.5h0M330.4 53.3h0M319.0 52.0h0M374.4 59.5h0M321.7 62.9h0M325.7 63.4h0M330.3 59.1h0M330.7 64.1h0M331.6 45.9h0M315.0 54.2h0M326.9 66.0h0M312.1 39.6h0M323.2 46.8h0M324.6 47.0h0M333.6 54.2h0M318.3 59.8h0M329.7 52.1h0M321.3 51.5h0M327.0 48.8h0M317.3 41.2h0M341.2 44.9h0M340.1 63.3h0M313.6 48.5h0M323.0 58.0h0M321.9 48.9h0M312.2 67.3h0M315.1 64.7h0M322.9 67.9h0M315.3 53.1h0M327.6 56.5h0M336.2 48.0h0M319.4 65.9h0M334.3 68.4h0M349.4 53.5h0M319.4 48.2h0M345.0 54.6h0M345.4 51.1h0M349.2 51.3h0M326.5 51.8h0M330.0 52.1h0M318.3 69.8h0M340.0 63.8h0M337.7 49.2h0M331.6 62.9h0M326.4 54.5h0M319.6 60.9h0M311.6 50.6h0M320.5 45.0h0M313.2 47.4h0M324.9 58.2h0M318.3 60.1h0M376.4 53.9h0M320.1 52.5h0M317.6 58.2h0M361.3 51.6h0M313.6 43.0h0M346.6 44.8h0M347.6 48.2h0M325.7 44.5h0M315.1 51.8h0M320.4 52.6h0M328.7 47.9h0M340.4 61.0h0M334.9 54.6h0M333.1 49.8h0M322.1 61.3h0M344.6 49.8h0M317.0 47.8h0M319.7 41.8h0M329.2 55.0h0M338.7 54.9h0M333.6 43.3h0M334.4 56.7h0M321.5 47.6h0M342.9 59.2h0M312.1 58.7h0M319.9 54.7h0M315.2 66.1h0M316.7 54.6h0M333.0 54.8h0M339.5 49.2h0M317.3 44.8h0M326.8 63.6h0M364.6 66.2h0M331.2 67.1h0M353.4 45.6h0M344.5 66.6h0M346.9 54.0h0" stroke="#1b5b97" stroke-width="1.2" stroke-linecap="square" fill="none"/>
<polygon points="310.19,50.97 314.94,51.89 319.69,52.79 324.44,53.64 329.19,54.40 333.94,55.07 338.69,55.69 343.44,56.29 348.20,56.87 352.95,57.44 357.70,58.01 362.45,58.58 367.20,59.15 371.95,59.71 376.70,60.27 381.45,60.84 381.45,65.53 376.70,64.57 371.95,63.61 367.20,62.66 362.45,61.70 357.70,60.75 352.95,59.79 348.20,58.85 343.44,57.91 338.69,56.98 333.94,56.08 329.19,55.23 324.44,54.47 319.69,53.79 314.94,53.17 310.19,52.58" fill="#f07088" fill-opacity="0.22"/>
<polyline points="310.19,50.97 314.94,51.89 319.69,52.79 324.44,53.64 329.19,54.40 333.94,55.07 338.69,55.69 343.44,56.29 348.20,56.87 352.95,57.44 357.70,58.01 362.45,58.58 367.20,59.15 371.95,59.71 376.70,60.27 381.45,60.84" fill="none" stroke="#e5506c" stroke-width="0.55"/>
<polyline points="310.19,52.58 314.94,53.17 319.69,53.79 324.44,54.47 329.19,55.23 333.94,56.08 338.69,56.98 343.44,57.91 348.20,58.85 352.95,59.79 357.70,60.75 362.45,61.70 367.20,62.66 371.95,63.61 376.70,64.57 381.45,65.53" fill="none" stroke="#e5506c" stroke-width="0.55"/>
<line x1="310.19" y1="51.77" x2="381.45" y2="63.18" stroke="#2a0a12" stroke-width="1.1" />
<line x1="309.10" y1="26.10" x2="309.10" y2="83.40" stroke="#222" stroke-width="1.0" />
<line x1="308.60" y1="83.40" x2="391.20" y2="83.40" stroke="#222" stroke-width="1.0" />
<line x1="306.10" y1="83.40" x2="309.10" y2="83.40" stroke="#222" stroke-width="0.7" />
<text x="304.50" y="85.99" font-size="7.4" text-anchor="end" fill="#555" >0</text>
<line x1="306.10" y1="71.94" x2="309.10" y2="71.94" stroke="#222" stroke-width="0.7" />
<text x="304.50" y="74.53" font-size="7.4" text-anchor="end" fill="#555" >20</text>
<line x1="306.10" y1="60.48" x2="309.10" y2="60.48" stroke="#222" stroke-width="0.7" />
<text x="304.50" y="63.07" font-size="7.4" text-anchor="end" fill="#555" >40</text>
<line x1="306.10" y1="49.02" x2="309.10" y2="49.02" stroke="#222" stroke-width="0.7" />
<text x="304.50" y="51.61" font-size="7.4" text-anchor="end" fill="#555" >60</text>
<line x1="306.10" y1="37.56" x2="309.10" y2="37.56" stroke="#222" stroke-width="0.7" />
<text x="304.50" y="40.15" font-size="7.4" text-anchor="end" fill="#555" >80</text>
<line x1="306.10" y1="26.10" x2="309.10" y2="26.10" stroke="#222" stroke-width="0.7" />
<text x="304.50" y="28.69" font-size="7.4" text-anchor="end" fill="#555" >100</text>
<line x1="309.10" y1="83.40" x2="309.10" y2="86.20" stroke="#222" stroke-width="0.75" />
<line x1="311.82" y1="83.40" x2="311.82" y2="85.20" stroke="#222" stroke-width="0.75" />
<line x1="314.54" y1="83.40" x2="314.54" y2="85.20" stroke="#222" stroke-width="0.75" />
<line x1="317.26" y1="83.40" x2="317.26" y2="85.20" stroke="#222" stroke-width="0.75" />
<line x1="319.98" y1="83.40" x2="319.98" y2="85.20" stroke="#222" stroke-width="0.75" />
<line x1="322.70" y1="83.40" x2="322.70" y2="85.20" stroke="#222" stroke-width="0.75" />
<line x1="325.42" y1="83.40" x2="325.42" y2="85.20" stroke="#222" stroke-width="0.75" />
<line x1="328.14" y1="83.40" x2="328.14" y2="85.20" stroke="#222" stroke-width="0.75" />
<line x1="330.86" y1="83.40" x2="330.86" y2="85.20" stroke="#222" stroke-width="0.75" />
<line x1="333.58" y1="83.40" x2="333.58" y2="85.20" stroke="#222" stroke-width="0.75" />
<line x1="336.30" y1="83.40" x2="336.30" y2="86.20" stroke="#222" stroke-width="0.75" />
<line x1="339.02" y1="83.40" x2="339.02" y2="85.20" stroke="#222" stroke-width="0.75" />
<line x1="341.74" y1="83.40" x2="341.74" y2="85.20" stroke="#222" stroke-width="0.75" />
<line x1="344.46" y1="83.40" x2="344.46" y2="85.20" stroke="#222" stroke-width="0.75" />
<line x1="347.18" y1="83.40" x2="347.18" y2="85.20" stroke="#222" stroke-width="0.75" />
<line x1="349.90" y1="83.40" x2="349.90" y2="85.20" stroke="#222" stroke-width="0.75" />
<line x1="352.62" y1="83.40" x2="352.62" y2="85.20" stroke="#222" stroke-width="0.75" />
<line x1="355.34" y1="83.40" x2="355.34" y2="85.20" stroke="#222" stroke-width="0.75" />
<line x1="358.06" y1="83.40" x2="358.06" y2="85.20" stroke="#222" stroke-width="0.75" />
<line x1="360.78" y1="83.40" x2="360.78" y2="85.20" stroke="#222" stroke-width="0.75" />
<line x1="363.50" y1="83.40" x2="363.50" y2="86.20" stroke="#222" stroke-width="0.75" />
<line x1="366.22" y1="83.40" x2="366.22" y2="85.20" stroke="#222" stroke-width="0.75" />
<line x1="368.94" y1="83.40" x2="368.94" y2="85.20" stroke="#222" stroke-width="0.75" />
<line x1="371.66" y1="83.40" x2="371.66" y2="85.20" stroke="#222" stroke-width="0.75" />
<line x1="374.38" y1="83.40" x2="374.38" y2="85.20" stroke="#222" stroke-width="0.75" />
<line x1="377.10" y1="83.40" x2="377.10" y2="85.20" stroke="#222" stroke-width="0.75" />
<line x1="379.82" y1="83.40" x2="379.82" y2="85.20" stroke="#222" stroke-width="0.75" />
<line x1="382.54" y1="83.40" x2="382.54" y2="85.20" stroke="#222" stroke-width="0.75" />
<line x1="385.26" y1="83.40" x2="385.26" y2="85.20" stroke="#222" stroke-width="0.75" />
<line x1="387.98" y1="83.40" x2="387.98" y2="85.20" stroke="#222" stroke-width="0.75" />
<line x1="390.70" y1="83.40" x2="390.70" y2="86.20" stroke="#222" stroke-width="0.75" />
<text x="309.10" y="94.89" font-size="7.4" text-anchor="middle" fill="#555" >0</text>
<text x="336.30" y="94.89" font-size="7.4" text-anchor="middle" fill="#555" >100</text>
<text x="363.50" y="94.89" font-size="7.4" text-anchor="middle" fill="#555" >200</text>
<text x="390.70" y="94.89" font-size="7.4" text-anchor="middle" fill="#555" >300</text>
<text x="349.70" y="106.92" font-size="9.5" text-anchor="middle" fill="#222" textLength="54.8" lengthAdjust="spacingAndGlyphs" stroke="#222" stroke-width="0.28">Day 1 PB CD34 /μL</text>
<text x="351.45" y="15.01" font-size="8.6" text-anchor="middle" fill="#222" font-weight="bold" textLength="15.3" lengthAdjust="spacingAndGlyphs" >Age</text>
<text transform="translate(288.20,54.95) rotate(-90)" x="0" y="2.94" font-size="8.4" text-anchor="middle" fill="#222" textLength="10.5" lengthAdjust="spacingAndGlyphs" stroke="#222" stroke-width="0.28">Age</text>
<text x="362.80" y="31.98" font-size="8.8" text-anchor="start" fill="#555" textLength="31.1" lengthAdjust="spacingAndGlyphs" ><tspan font-style="italic">r</tspan> = −0.23</text>
<path d="M364.05,34.55V36.85M363.05,35.12L365.05,36.28M363.05,36.28L365.05,35.12" stroke="#333" stroke-width="0.75" fill="none"/><path d="M366.78,34.55V36.85M365.78,35.12L367.78,36.28M365.78,36.28L367.78,35.12" stroke="#333" stroke-width="0.75" fill="none"/><path d="M369.52,34.55V36.85M368.52,35.12L370.52,36.28M368.52,36.28L370.52,35.12" stroke="#333" stroke-width="0.75" fill="none"/><path d="M372.25,34.55V36.85M371.25,35.12L373.25,36.28M371.25,36.28L373.25,35.12" stroke="#333" stroke-width="0.75" fill="none"/>

<polygon points="426.09,65.41 430.86,65.16 435.63,64.90 440.40,64.62 445.17,64.34 449.93,64.04 454.70,63.73 459.47,63.42 464.24,63.09 469.01,62.76 473.78,62.42 478.54,62.07 483.31,61.72 488.08,61.36 492.85,61.00 497.62,60.63 497.62,63.77 492.85,63.97 488.08,64.18 483.31,64.40 478.54,64.61 473.78,64.84 469.01,65.07 464.24,65.30 459.47,65.55 454.70,65.80 449.93,66.06 445.17,66.34 440.40,66.62 435.63,66.92 430.86,67.23 426.09,67.54" fill="#f07088" fill-opacity="0.22"/>
<polyline points="426.09,65.41 430.86,65.16 435.63,64.90 440.40,64.62 445.17,64.34 449.93,64.04 454.70,63.73 459.47,63.42 464.24,63.09 469.01,62.76 473.78,62.42 478.54,62.07 483.31,61.72 488.08,61.36 492.85,61.00 497.62,60.63" fill="none" stroke="#e5506c" stroke-width="0.55"/>
<polyline points="426.09,67.54 430.86,67.23 435.63,66.92 440.40,66.62 445.17,66.34 449.93,66.06 454.70,65.80 459.47,65.55 464.24,65.30 469.01,65.07 473.78,64.84 478.54,64.61 483.31,64.40 488.08,64.18 492.85,63.97 497.62,63.77" fill="none" stroke="#e5506c" stroke-width="0.55"/>
<line x1="426.09" y1="66.48" x2="497.62" y2="62.20" stroke="#2a0a12" stroke-width="1.1" />
<path d="M438.1 38.1h0M473.9 44.5h0M443.6 48.5h0M467.9 53.2h0M497.3 70.5h0M441.4 49.9h0M452.3 52.1h0M460.5 51.0h0M436.5 71.8h0M434.9 63.7h0M455.7 68.3h0M431.8 67.6h0M458.6 66.3h0M440.0 68.0h0M432.2 70.0h0M443.0 71.5h0M436.2 61.0h0M435.9 65.6h0M459.5 64.0h0M449.4 59.0h0M427.4 67.3h0M439.8 64.4h0M439.7 66.1h0M437.3 51.2h0M465.1 62.9h0M434.4 65.5h0M434.6 67.3h0M443.3 65.0h0M456.9 61.4h0M431.2 73.2h0M439.7 66.6h0M438.8 67.5h0M449.2 66.5h0M480.8 69.6h0M452.1 63.0h0M437.5 69.0h0M435.0 67.2h0M427.6 68.5h0M442.4 71.2h0M453.1 66.6h0M450.1 71.2h0M436.8 69.3h0M465.5 65.4h0M432.7 66.6h0M456.3 64.9h0M447.5 66.1h0M436.5 59.7h0M455.8 63.7h0M433.0 70.4h0M434.2 68.4h0M445.7 67.8h0M472.2 64.5h0M453.4 67.1h0M436.0 69.1h0M467.6 59.1h0M486.7 62.8h0M445.2 66.8h0M443.0 66.7h0M433.5 67.3h0M433.3 62.2h0M431.3 65.2h0M433.6 54.2h0M430.5 70.8h0M438.7 65.2h0M435.2 63.2h0M437.9 60.1h0M446.5 65.6h0M433.1 72.0h0M435.2 64.6h0M442.8 67.8h0M486.0 68.6h0M452.8 67.2h0M429.0 63.6h0M450.1 61.7h0M447.6 63.4h0M438.8 69.5h0M434.3 58.7h0M445.6 69.4h0M471.8 64.2h0M454.6 69.7h0M438.5 62.1h0M438.4 64.8h0M448.3 62.8h0M447.3 65.3h0M462.6 64.8h0M442.1 65.4h0M439.5 72.1h0M436.3 63.3h0M438.1 63.4h0M435.6 67.6h0M434.8 66.5h0M430.1 65.8h0M436.0 61.5h0M447.4 64.3h0M458.0 64.8h0M440.9 67.6h0M470.7 68.7h0M464.7 66.3h0M428.8 66.6h0M443.8 66.6h0M443.4 65.6h0M449.7 53.8h0M458.7 58.0h0M438.0 65.4h0M455.8 54.5h0M429.4 66.2h0M449.8 65.5h0M432.3 65.2h0M432.2 72.0h0M454.1 61.2h0M435.7 70.4h0M450.0 62.8h0M441.1 66.0h0M445.2 54.0h0M438.2 66.1h0M430.0 69.7h0M460.7 61.3h0M460.8 64.1h0M443.4 54.5h0M441.0 65.8h0M435.3 63.3h0M433.9 63.9h0M433.7 65.8h0M431.6 71.5h0M440.6 67.3h0M460.0 64.4h0M437.6 60.6h0M447.6 64.4h0M448.4 65.8h0M435.3 62.7h0M450.8 65.7h0M441.3 66.1h0M465.0 63.9h0M462.1 63.1h0M439.5 63.1h0M439.5 64.8h0M470.1 64.9h0M434.0 70.0h0M474.4 63.1h0M461.4 60.2h0M437.7 68.2h0M441.2 69.3h0M454.3 63.8h0M432.8 71.5h0M433.7 73.4h0M454.4 66.5h0M446.2 67.8h0M447.3 66.4h0M493.9 64.1h0M445.0 64.7h0M437.8 66.9h0M456.9 66.8h0M450.1 66.8h0M437.6 64.2h0M434.0 63.5h0M447.9 62.7h0M438.2 64.0h0M435.1 62.5h0M436.1 69.5h0M463.3 65.5h0M440.4 65.4h0M445.2 70.8h0M431.2 62.2h0M431.8 65.7h0M429.7 68.7h0M443.4 65.3h0M436.2 67.4h0M428.7 69.2h0M483.7 61.5h0M442.9 67.3h0M435.1 70.8h0M456.5 66.9h0M447.4 65.9h0M446.6 69.0h0M465.9 60.4h0M440.1 69.4h0M452.4 59.7h0M434.3 63.6h0M432.9 62.3h0M433.3 61.4h0M445.4 62.0h0M442.5 66.5h0M437.2 70.0h0M447.3 65.2h0M458.4 58.6h0M431.4 71.3h0M450.4 63.6h0M455.3 65.0h0M446.3 66.0h0M449.2 66.6h0M439.3 58.0h0M432.5 63.3h0M458.3 62.9h0M435.1 69.5h0M449.7 60.5h0M464.8 68.4h0M458.0 62.7h0M444.8 65.1h0M444.8 62.0h0M458.4 63.7h0M462.1 61.2h0M433.6 66.5h0M431.1 52.6h0M446.3 64.5h0M449.7 55.1h0M442.8 68.0h0M443.2 62.1h0M438.1 64.7h0M445.0 65.1h0M430.6 68.4h0M448.8 64.0h0M455.3 69.6h0M449.1 69.7h0M433.6 64.2h0M438.0 71.0h0M445.4 61.2h0M441.1 66.8h0M445.3 64.9h0M446.6 65.3h0M433.6 65.1h0M448.0 66.3h0M486.2 60.0h0M438.4 66.5h0M435.5 63.0h0M446.0 62.1h0M444.1 61.7h0M456.0 63.8h0M450.6 65.9h0M456.5 70.1h0M438.4 64.1h0M455.5 62.3h0M451.8 66.5h0M460.7 62.1h0M463.5 60.4h0M434.8 66.1h0M433.9 63.1h0M437.4 59.7h0M464.0 69.8h0M446.3 67.0h0M431.4 67.9h0M440.4 64.3h0M430.8 69.3h0M478.8 64.7h0M449.9 62.5h0M432.7 56.1h0M447.6 65.3h0M493.9 59.3h0M448.1 63.0h0M431.7 56.4h0M438.8 65.3h0M452.1 64.8h0M472.1 63.5h0M453.3 60.3h0M450.9 73.0h0M433.3 59.2h0M452.3 64.2h0M468.4 60.6h0M435.0 69.8h0M434.9 65.3h0M434.7 63.7h0M447.6 66.9h0M441.1 71.9h0M472.7 64.9h0M464.3 68.1h0M451.8 63.2h0M447.0 68.2h0M431.0 61.0h0M440.1 65.5h0M442.8 68.3h0M470.3 65.5h0M443.3 69.2h0M460.2 63.4h0M448.6 60.8h0M451.7 65.9h0M438.6 63.2h0M431.3 69.5h0M454.7 64.0h0M459.3 50.1h0M429.5 71.1h0M437.8 62.3h0M441.9 62.2h0M452.6 71.0h0M432.2 71.0h0M481.2 66.3h0M440.8 62.9h0M449.0 66.7h0M442.8 66.3h0M461.0 62.4h0M453.2 58.0h0M459.1 64.0h0M439.1 67.1h0M447.7 62.0h0M452.0 67.6h0M489.1 57.5h0M455.5 66.0h0M443.3 68.3h0M467.2 62.1h0M437.3 64.8h0M449.0 71.6h0M448.1 64.8h0M439.0 70.3h0M440.8 68.5h0M449.6 62.9h0M430.7 69.3h0M444.8 64.6h0M428.9 67.9h0M428.5 49.1h0M457.9 65.1h0M442.4 69.5h0M453.2 68.6h0M447.7 68.3h0M463.9 64.0h0M441.2 65.9h0M437.8 63.1h0M439.9 65.5h0M426.9 66.5h0M429.1 60.9h0M453.7 65.5h0M429.2 54.4h0M448.6 51.2h0M452.7 62.7h0M432.5 68.2h0M433.1 68.9h0M431.8 69.1h0M434.1 65.6h0M439.1 73.9h0M435.9 56.7h0M437.6 64.8h0M434.2 68.2h0M473.8 67.3h0M443.2 60.4h0M436.3 62.0h0M433.1 67.3h0M449.2 61.3h0M443.1 61.8h0M454.6 68.6h0M442.4 57.5h0M452.2 68.2h0M436.2 67.1h0M429.6 70.2h0M436.6 66.0h0M433.4 70.6h0M433.7 66.5h0M451.7 61.9h0M447.9 64.9h0M443.5 66.7h0M437.5 61.4h0M449.8 68.2h0M440.4 63.0h0M444.5 66.7h0M452.6 64.5h0M439.2 59.1h0M438.0 65.8h0M458.3 65.0h0M438.3 68.6h0M441.6 67.7h0M458.2 63.5h0M440.0 56.5h0M437.5 69.9h0M470.4 66.2h0M450.4 67.6h0M433.7 66.7h0M442.9 65.3h0M437.1 66.0h0M440.2 68.1h0M464.3 64.4h0M430.0 71.1h0M430.3 75.8h0M449.3 65.7h0M436.4 71.5h0M435.2 69.4h0M431.2 70.5h0M464.2 62.5h0M460.7 68.5h0M440.2 65.3h0M436.3 67.9h0M450.8 69.3h0M456.2 70.0h0M446.3 64.3h0M441.5 64.8h0M432.7 64.2h0M444.6 60.1h0M480.8 57.8h0M434.3 65.7h0M430.6 67.2h0M440.7 65.8h0M458.0 66.0h0M459.5 67.6h0M437.5 60.1h0M437.3 72.2h0M466.3 63.6h0M444.7 64.5h0M454.2 64.8h0M441.1 62.7h0M452.3 66.0h0M443.5 64.3h0M462.8 68.0h0M434.7 66.7h0M432.1 68.0h0M449.1 67.3h0M429.0 64.8h0M448.5 69.0h0M459.0 63.6h0M448.7 67.5h0M444.4 64.6h0M451.1 65.3h0M444.3 65.2h0M431.1 69.9h0M441.5 68.6h0M434.4 69.3h0M466.8 63.9h0M452.8 63.0h0M441.0 62.8h0M446.9 67.3h0M439.6 66.0h0M465.1 64.9h0M435.1 73.5h0M478.2 66.4h0M459.7 67.0h0M433.8 71.5h0M438.5 71.9h0M445.9 64.2h0M449.7 68.1h0M458.4 70.3h0M438.4 59.2h0M434.6 66.1h0M442.6 67.1h0M434.9 64.5h0M438.3 68.8h0M432.9 61.8h0M487.3 67.9h0M452.0 69.6h0M441.8 66.6h0M452.4 67.8h0M442.5 61.7h0M436.4 71.5h0M449.5 67.9h0M432.3 66.1h0M435.5 64.9h0M456.3 51.2h0M444.4 65.0h0M453.8 58.5h0M446.5 67.4h0M432.0 66.3h0M438.1 63.8h0M457.9 66.1h0M441.3 67.2h0M453.9 66.8h0M443.2 68.1h0M432.6 70.4h0M455.4 67.0h0M439.3 71.2h0M429.6 65.9h0M468.1 69.4h0M440.9 59.9h0M436.9 61.3h0M438.3 63.0h0M446.1 66.6h0M429.4 68.9h0M438.4 59.2h0M428.2 66.6h0M456.0 63.6h0M443.2 68.4h0M455.5 62.0h0M470.5 66.8h0M436.3 66.3h0M456.3 70.7h0M434.6 68.8h0M428.7 65.6h0M448.8 67.2h0M435.0 68.1h0M473.9 61.6h0M452.0 65.8h0M428.9 63.3h0M442.6 73.7h0M436.5 64.9h0M453.1 63.9h0M439.8 71.2h0M461.3 69.0h0M451.1 62.9h0M485.5 66.6h0M448.7 67.8h0M436.5 64.8h0M441.8 67.3h0M435.2 65.2h0M433.0 62.0h0M445.0 65.1h0M449.5 62.4h0M439.1 65.5h0M443.1 73.0h0M433.7 64.8h0M436.1 66.5h0M437.6 69.4h0M429.4 62.8h0M436.7 72.1h0M432.8 61.1h0M438.0 68.5h0M428.7 62.3h0M447.0 66.1h0M460.6 69.2h0M440.4 66.1h0M447.5 54.1h0M442.7 64.5h0M451.7 62.3h0M442.2 69.0h0M430.5 65.5h0M470.4 53.0h0M430.2 67.9h0M449.2 68.7h0M452.6 68.5h0M431.5 64.7h0M437.4 64.1h0M438.4 69.1h0M442.9 70.4h0M452.2 51.6h0M431.5 71.8h0M439.6 65.9h0M453.8 68.0h0M455.4 70.8h0M456.6 64.9h0M452.6 66.2h0M439.3 62.0h0M433.0 59.8h0M457.9 59.6h0M440.3 63.2h0M451.5 62.4h0M433.4 68.5h0M430.0 69.8h0M446.6 61.0h0M466.8 65.7h0M436.7 66.7h0M431.6 67.9h0M447.8 66.3h0M446.5 67.9h0M436.7 64.3h0M430.8 63.1h0M465.4 65.9h0M437.6 70.9h0M463.5 64.7h0M430.7 71.7h0M445.0 68.1h0M434.6 63.0h0M439.1 59.3h0M447.6 64.7h0M438.7 69.8h0M451.2 63.2h0M444.8 73.1h0M435.2 68.9h0M431.5 62.3h0M433.6 64.5h0M453.1 69.8h0M432.7 72.1h0M428.7 64.5h0M452.0 65.8h0M456.0 67.2h0M431.9 65.7h0M449.6 67.6h0M435.6 72.7h0M432.4 64.4h0M448.0 67.9h0M432.9 70.0h0M449.3 69.9h0M440.4 65.6h0M431.9 69.5h0M454.7 63.5h0M435.0 67.6h0M438.2 53.6h0M448.9 67.0h0M458.5 67.2h0M436.6 72.8h0M441.6 69.7h0M433.6 64.6h0M430.3 57.6h0M445.7 69.9h0M449.2 69.0h0M460.3 56.3h0M439.8 64.9h0M474.6 66.2h0M434.0 66.6h0M435.6 71.7h0M444.8 67.0h0M429.4 64.3h0M447.8 56.1h0M440.7 66.9h0M442.9 67.0h0M430.6 65.6h0M438.4 63.1h0M447.4 64.4h0M449.6 68.1h0M443.0 65.1h0M451.2 62.6h0M480.1 65.9h0M440.2 70.5h0M432.0 65.4h0M480.6 62.5h0M434.4 55.6h0M460.0 64.8h0M447.1 67.9h0M434.4 68.1h0M452.2 68.8h0M474.0 67.0h0M427.8 69.0h0M445.8 67.5h0M443.2 62.7h0M466.2 68.4h0M451.9 65.7h0M432.4 68.7h0M427.6 62.6h0M447.9 65.1h0M452.6 66.7h0M437.9 64.0h0M440.1 66.2h0M433.1 68.3h0M451.1 60.9h0M442.5 54.5h0M451.7 60.2h0M438.9 56.1h0M434.7 64.3h0M436.1 66.2h0M473.2 62.1h0M460.5 62.8h0M456.3 65.1h0M460.8 62.9h0M440.2 66.4h0M442.0 68.4h0M431.4 70.1h0M451.0 63.5h0M459.5 61.1h0M438.4 57.5h0M472.3 62.8h0M433.9 62.5h0M440.9 68.9h0M444.1 67.2h0M458.4 68.6h0M461.2 61.3h0M435.2 65.9h0M455.0 60.8h0M463.6 69.9h0M436.9 67.1h0M452.9 62.4h0M440.2 67.3h0M454.4 66.7h0M439.5 64.4h0M454.5 69.2h0M435.4 66.5h0M444.9 64.2h0M450.9 68.0h0M443.0 68.7h0M436.7 65.8h0M468.2 64.8h0M438.7 67.2h0M458.1 64.5h0M439.9 65.7h0M448.3 63.7h0M446.5 68.0h0M439.2 65.0h0M443.0 62.7h0M432.2 62.7h0M440.1 69.0h0M441.2 55.5h0M443.0 63.8h0M435.2 66.8h0M436.0 65.1h0M429.2 64.5h0M457.0 59.7h0M436.2 63.7h0M433.5 64.9h0M428.3 67.6h0M436.4 67.2h0M455.0 61.8h0M469.2 61.8h0M428.8 70.2h0M467.7 65.4h0M436.4 65.9h0M433.2 71.2h0M441.8 53.1h0M440.6 66.5h0M454.5 64.9h0M440.2 65.3h0M439.9 60.8h0M442.7 66.0h0M449.3 66.8h0M461.4 59.5h0M443.5 67.7h0M450.1 67.3h0M455.4 58.1h0M450.9 54.3h0M443.9 65.2h0M435.3 65.2h0M437.4 66.0h0M435.8 62.9h0M467.5 66.9h0M430.4 69.4h0M458.0 63.8h0M459.3 64.6h0M448.2 60.7h0M437.6 68.8h0M443.6 67.6h0M448.2 68.9h0M443.6 61.8h0M430.4 70.8h0M435.3 64.3h0M439.9 61.9h0M434.8 57.3h0M446.3 60.1h0M443.1 72.7h0M471.6 65.4h0M438.8 71.5h0M440.7 65.7h0M468.2 64.4h0M454.6 67.7h0M434.1 63.8h0M452.3 64.4h0M434.9 68.3h0M448.2 67.4h0M486.3 67.7h0M440.3 66.9h0M455.9 58.7h0M450.7 67.8h0M466.6 53.8h0M438.0 68.2h0M444.1 63.6h0M451.8 64.2h0M439.8 67.1h0M437.6 72.0h0M446.8 67.4h0M453.8 55.9h0M450.5 66.4h0M435.6 64.7h0M446.1 67.4h0M444.5 71.8h0M463.3 63.4h0M436.5 65.6h0M439.6 68.1h0M469.4 65.5h0M440.0 65.4h0M434.9 68.5h0M438.8 65.3h0M438.3 55.1h0M438.2 73.7h0M466.9 64.9h0M436.5 68.4h0M431.5 69.5h0M462.2 63.6h0M445.5 67.4h0M449.6 64.0h0M445.6 62.6h0M449.1 60.8h0M451.5 70.3h0M446.2 68.2h0M431.3 64.1h0M443.8 66.9h0M434.6 58.3h0M446.7 66.1h0M443.9 64.5h0M464.4 63.9h0M435.1 64.6h0M434.5 69.2h0M434.2 67.5h0M450.1 66.4h0M433.8 66.8h0M434.2 73.2h0M452.1 66.2h0M433.0 70.9h0M431.0 62.6h0M434.2 57.9h0M444.1 60.8h0M432.0 64.3h0M443.0 67.6h0M436.1 63.6h0M454.8 65.9h0M440.6 64.4h0M472.4 66.9h0M441.5 57.2h0M435.3 65.2h0M443.4 60.6h0M440.3 66.4h0M437.4 59.5h0M486.0 54.7h0M461.6 68.8h0M457.3 65.2h0M457.6 68.0h0M434.4 67.1h0M437.4 68.1h0M432.9 67.0h0M458.2 62.1h0M472.4 61.2h0M438.8 65.6h0M442.0 66.1h0M438.8 66.0h0M447.1 65.4h0M444.4 64.2h0M446.5 65.8h0M449.1 64.1h0M444.5 70.0h0M440.3 63.8h0M462.0 56.5h0M448.1 65.2h0M435.7 70.9h0M464.5 60.5h0M442.1 61.8h0M455.2 74.5h0M442.2 66.8h0M470.9 62.3h0M471.0 53.1h0M443.4 62.2h0M441.4 64.3h0M439.9 65.9h0M449.4 64.7h0M450.2 69.0h0M429.6 66.4h0M434.6 61.6h0M464.1 67.8h0M445.0 67.8h0M429.3 65.6h0M443.1 72.0h0M435.8 72.6h0M438.6 67.1h0M434.2 65.9h0M438.7 67.8h0M433.5 73.8h0M437.8 66.4h0M435.1 63.2h0M454.6 63.3h0M439.2 66.6h0M445.3 56.2h0M436.6 64.5h0M452.6 67.1h0M445.0 63.4h0M437.9 62.6h0M457.7 63.9h0M440.6 62.1h0M487.6 65.0h0M445.4 63.1h0M444.5 65.1h0M444.8 69.0h0M462.4 65.0h0M445.1 67.6h0M438.5 68.1h0M432.9 66.5h0M471.3 60.9h0M462.3 65.8h0M467.3 64.0h0M442.1 70.7h0M433.3 66.4h0M446.2 62.3h0M434.6 64.1h0M438.0 64.9h0M461.3 66.5h0M437.6 69.5h0M432.6 67.1h0M443.8 70.2h0M430.2 70.8h0M449.5 62.7h0M434.3 63.1h0M463.1 59.2h0M431.7 71.3h0M432.6 65.4h0M438.1 70.0h0M432.4 66.3h0M441.0 69.4h0M449.1 65.5h0M440.1 66.8h0M448.3 67.1h0M444.6 64.4h0M442.2 61.5h0M434.3 68.5h0M439.5 63.6h0M456.0 64.9h0M454.9 65.4h0M450.0 58.8h0M435.1 73.3h0M461.0 67.0h0M435.8 72.2h0M442.9 67.0h0M470.3 64.9h0M429.5 55.2h0M442.9 65.0h0M453.0 59.8h0M439.1 62.3h0M429.8 68.3h0M454.7 63.8h0M460.5 59.7h0M467.2 63.9h0M433.4 66.1h0M430.8 65.3h0M446.0 70.5h0M477.2 66.3h0M440.2 65.2h0M457.0 63.4h0M436.8 69.3h0M450.1 66.6h0M452.9 65.8h0M438.7 66.8h0M472.3 61.9h0M441.2 65.9h0M474.1 63.5h0M436.3 59.1h0M432.5 70.1h0M429.6 58.3h0M458.3 70.0h0M445.4 65.1h0M438.6 68.4h0M435.9 69.1h0M437.7 64.4h0M462.7 66.8h0M450.0 68.3h0M428.3 69.2h0M431.7 66.7h0M430.7 58.4h0M446.5 72.4h0M444.0 66.1h0M455.3 66.0h0M438.0 63.5h0M438.8 67.5h0M436.5 74.2h0M452.1 61.4h0M432.7 70.2h0M436.9 62.8h0M429.2 71.3h0M452.9 68.8h0M431.5 68.4h0M437.3 63.8h0M441.8 63.6h0M438.3 68.3h0M428.1 65.6h0M449.1 66.9h0M452.8 65.1h0M443.8 65.6h0M438.2 64.5h0M441.6 68.1h0M482.3 63.9h0M435.0 66.0h0M434.0 66.4h0M454.1 67.8h0M473.2 58.7h0M458.2 66.5h0M442.7 63.8h0M473.2 63.4h0M437.3 62.7h0M450.3 72.4h0M429.8 60.6h0M454.8 66.0h0M442.3 70.0h0M463.1 64.4h0M427.5 60.2h0M447.6 64.2h0M442.0 70.0h0M440.4 67.7h0M445.7 61.8h0M439.4 70.7h0M453.4 55.0h0M432.5 67.8h0M448.8 59.0h0M459.9 65.9h0M433.8 62.7h0M478.0 65.9h0M442.1 68.7h0M436.2 63.5h0M450.0 63.7h0M449.4 71.1h0M446.8 63.9h0M430.2 65.0h0M454.3 67.3h0M454.0 64.7h0M435.3 65.8h0M472.6 65.6h0M441.6 68.0h0M447.3 67.9h0M431.0 67.8h0M449.1 69.9h0M433.0 66.9h0M430.9 71.6h0M444.3 65.8h0M463.7 65.0h0M436.4 69.8h0M433.7 64.1h0M460.5 54.4h0M457.2 61.1h0M442.6 70.4h0M446.9 61.9h0M434.0 66.1h0M432.4 56.4h0M431.8 68.7h0M439.4 66.4h0M453.7 61.1h0M439.5 64.7h0M443.2 67.4h0M452.2 67.6h0M428.8 58.4h0M456.3 63.4h0M447.0 60.1h0M433.8 70.0h0M440.3 66.3h0M431.1 68.1h0M450.3 65.0h0M443.0 64.9h0M440.5 64.6h0M432.4 71.3h0M448.0 69.0h0M449.0 62.0h0M451.0 64.6h0M430.9 65.3h0M439.3 67.9h0M438.1 67.7h0M454.8 63.9h0M453.1 67.0h0M448.5 69.2h0M455.1 65.3h0M443.5 56.9h0M489.2 66.2h0M440.2 63.1h0M442.4 64.0h0M432.9 61.2h0M446.4 65.9h0M445.9 66.1h0M459.9 63.0h0M447.3 63.8h0M432.7 70.9h0M443.2 70.3h0M443.6 62.9h0M451.3 65.2h0M443.9 64.8h0M438.0 55.5h0M444.2 61.3h0M444.7 69.8h0M433.9 63.4h0M435.4 69.2h0M444.0 63.8h0M457.7 61.0h0M444.9 70.3h0M442.5 64.9h0M448.7 66.6h0M443.5 67.0h0M431.0 66.8h0M437.7 69.8h0M460.5 67.9h0M444.3 64.0h0M433.5 64.2h0M444.6 67.8h0M441.5 70.7h0M482.3 56.3h0M434.7 63.3h0M450.9 56.9h0M460.7 68.1h0M451.3 67.4h0M433.6 66.0h0M444.7 69.0h0M435.5 61.7h0M438.9 66.0h0M451.5 64.4h0M430.8 70.1h0M456.1 68.1h0M469.4 66.8h0M453.4 64.6h0M439.6 67.2h0M472.0 65.1h0M447.6 64.9h0M430.3 66.3h0M434.6 62.1h0M446.8 66.5h0M444.6 69.2h0M450.0 65.7h0M449.0 61.2h0M435.8 68.3h0M438.7 63.4h0M447.1 67.0h0M475.7 53.7h0M457.6 64.4h0M463.5 67.3h0M452.1 58.3h0M441.3 63.4h0M437.6 63.1h0M432.3 64.0h0M442.5 63.5h0M447.0 66.9h0M436.9 67.7h0M430.4 64.1h0M429.2 70.7h0M429.6 58.4h0M466.4 70.3h0M469.7 65.5h0M456.2 67.4h0M451.0 69.3h0M449.5 63.9h0M432.0 69.1h0M486.7 64.3h0M442.5 67.0h0M444.5 68.3h0M438.6 51.9h0M431.4 68.4h0M446.5 65.3h0M458.4 69.1h0M449.2 67.2h0M431.9 67.9h0M470.0 65.3h0M459.8 66.8h0M431.6 66.5h0M438.8 61.6h0M478.3 52.8h0" stroke="#1b5b97" stroke-width="1.2" stroke-linecap="square" fill="none"/>
<line x1="425.00" y1="26.50" x2="425.00" y2="83.30" stroke="#222" stroke-width="1.0" />
<line x1="424.50" y1="83.30" x2="507.40" y2="83.30" stroke="#222" stroke-width="1.0" />
<line x1="422.00" y1="83.30" x2="425.00" y2="83.30" stroke="#222" stroke-width="0.7" />
<text x="420.40" y="85.89" font-size="7.4" text-anchor="end" fill="#555" >0</text>
<line x1="422.00" y1="69.10" x2="425.00" y2="69.10" stroke="#222" stroke-width="0.7" />
<text x="420.40" y="71.69" font-size="7.4" text-anchor="end" fill="#555" >200</text>
<line x1="422.00" y1="54.90" x2="425.00" y2="54.90" stroke="#222" stroke-width="0.7" />
<text x="420.40" y="57.49" font-size="7.4" text-anchor="end" fill="#555" >400</text>
<line x1="422.00" y1="40.70" x2="425.00" y2="40.70" stroke="#222" stroke-width="0.7" />
<text x="420.40" y="43.29" font-size="7.4" text-anchor="end" fill="#555" >600</text>
<line x1="422.00" y1="26.50" x2="425.00" y2="26.50" stroke="#222" stroke-width="0.7" />
<text x="420.40" y="29.09" font-size="7.4" text-anchor="end" fill="#555" >800</text>
<line x1="425.00" y1="83.30" x2="425.00" y2="86.10" stroke="#222" stroke-width="0.75" />
<line x1="427.73" y1="83.30" x2="427.73" y2="85.10" stroke="#222" stroke-width="0.75" />
<line x1="430.46" y1="83.30" x2="430.46" y2="85.10" stroke="#222" stroke-width="0.75" />
<line x1="433.19" y1="83.30" x2="433.19" y2="85.10" stroke="#222" stroke-width="0.75" />
<line x1="435.92" y1="83.30" x2="435.92" y2="85.10" stroke="#222" stroke-width="0.75" />
<line x1="438.65" y1="83.30" x2="438.65" y2="85.10" stroke="#222" stroke-width="0.75" />
<line x1="441.38" y1="83.30" x2="441.38" y2="85.10" stroke="#222" stroke-width="0.75" />
<line x1="444.11" y1="83.30" x2="444.11" y2="85.10" stroke="#222" stroke-width="0.75" />
<line x1="446.84" y1="83.30" x2="446.84" y2="85.10" stroke="#222" stroke-width="0.75" />
<line x1="449.57" y1="83.30" x2="449.57" y2="85.10" stroke="#222" stroke-width="0.75" />
<line x1="452.30" y1="83.30" x2="452.30" y2="86.10" stroke="#222" stroke-width="0.75" />
<line x1="455.03" y1="83.30" x2="455.03" y2="85.10" stroke="#222" stroke-width="0.75" />
<line x1="457.76" y1="83.30" x2="457.76" y2="85.10" stroke="#222" stroke-width="0.75" />
<line x1="460.49" y1="83.30" x2="460.49" y2="85.10" stroke="#222" stroke-width="0.75" />
<line x1="463.22" y1="83.30" x2="463.22" y2="85.10" stroke="#222" stroke-width="0.75" />
<line x1="465.95" y1="83.30" x2="465.95" y2="85.10" stroke="#222" stroke-width="0.75" />
<line x1="468.68" y1="83.30" x2="468.68" y2="85.10" stroke="#222" stroke-width="0.75" />
<line x1="471.41" y1="83.30" x2="471.41" y2="85.10" stroke="#222" stroke-width="0.75" />
<line x1="474.14" y1="83.30" x2="474.14" y2="85.10" stroke="#222" stroke-width="0.75" />
<line x1="476.87" y1="83.30" x2="476.87" y2="85.10" stroke="#222" stroke-width="0.75" />
<line x1="479.60" y1="83.30" x2="479.60" y2="86.10" stroke="#222" stroke-width="0.75" />
<line x1="482.33" y1="83.30" x2="482.33" y2="85.10" stroke="#222" stroke-width="0.75" />
<line x1="485.06" y1="83.30" x2="485.06" y2="85.10" stroke="#222" stroke-width="0.75" />
<line x1="487.79" y1="83.30" x2="487.79" y2="85.10" stroke="#222" stroke-width="0.75" />
<line x1="490.52" y1="83.30" x2="490.52" y2="85.10" stroke="#222" stroke-width="0.75" />
<line x1="493.25" y1="83.30" x2="493.25" y2="85.10" stroke="#222" stroke-width="0.75" />
<line x1="495.98" y1="83.30" x2="495.98" y2="85.10" stroke="#222" stroke-width="0.75" />
<line x1="498.71" y1="83.30" x2="498.71" y2="85.10" stroke="#222" stroke-width="0.75" />
<line x1="501.44" y1="83.30" x2="501.44" y2="85.10" stroke="#222" stroke-width="0.75" />
<line x1="504.17" y1="83.30" x2="504.17" y2="85.10" stroke="#222" stroke-width="0.75" />
<line x1="506.90" y1="83.30" x2="506.90" y2="86.10" stroke="#222" stroke-width="0.75" />
<text x="425.00" y="94.89" font-size="7.4" text-anchor="middle" fill="#555" >0</text>
<text x="452.30" y="94.89" font-size="7.4" text-anchor="middle" fill="#555" >100</text>
<text x="479.60" y="94.89" font-size="7.4" text-anchor="middle" fill="#555" >200</text>
<text x="506.90" y="94.89" font-size="7.4" text-anchor="middle" fill="#555" >300</text>
<text x="465.75" y="107.53" font-size="9.5" text-anchor="middle" fill="#222" textLength="54.8" lengthAdjust="spacingAndGlyphs" stroke="#222" stroke-width="0.28">Day 1 PB CD34 /μL</text>
<text x="467.00" y="14.61" font-size="8.6" text-anchor="middle" fill="#222" font-weight="bold" textLength="40.4" lengthAdjust="spacingAndGlyphs" >Platelet Ct</text>
<text transform="translate(402.10,56.20) rotate(-90)" x="0" y="3.22" font-size="9.2" text-anchor="middle" fill="#222" textLength="31.5" lengthAdjust="spacingAndGlyphs" stroke="#222" stroke-width="0.28">Platelets ct</text>
<text x="475.80" y="31.38" font-size="8.8" text-anchor="start" fill="#555" textLength="26.7" lengthAdjust="spacingAndGlyphs" ><tspan font-style="italic">r</tspan> = 0.21</text>
<path d="M477.45,34.55V36.85M476.45,35.12L478.45,36.28M476.45,36.28L478.45,35.12" stroke="#333" stroke-width="0.75" fill="none"/><path d="M480.12,34.55V36.85M479.12,35.12L481.12,36.28M479.12,36.28L481.12,35.12" stroke="#333" stroke-width="0.75" fill="none"/><path d="M482.78,34.55V36.85M481.78,35.12L483.78,36.28M481.78,36.28L483.78,35.12" stroke="#333" stroke-width="0.75" fill="none"/><path d="M485.45,34.55V36.85M484.45,35.12L486.45,36.28M484.45,36.28L486.45,35.12" stroke="#333" stroke-width="0.75" fill="none"/>
<path d="M328.8 146.2h0M324.4 170.2h0M328.2 172.5h0M325.0 172.2h0M324.3 170.9h0M323.7 170.6h0M332.0 164.4h0M316.5 172.8h0M325.3 172.3h0M329.0 173.3h0M330.4 175.1h0M316.1 177.6h0M351.4 166.9h0M334.7 176.3h0M319.8 168.2h0M323.2 169.5h0M338.1 171.3h0M341.0 160.7h0M320.7 172.2h0M319.1 172.4h0M346.3 166.1h0M334.0 173.0h0M326.8 172.7h0M322.8 172.2h0M326.0 172.5h0M319.2 174.3h0M340.9 175.2h0M330.2 176.1h0M331.8 169.5h0M373.8 167.1h0M332.5 168.0h0M318.6 165.6h0M321.9 167.0h0M342.7 168.7h0M346.9 163.8h0M330.4 171.6h0M324.4 173.4h0M340.0 163.2h0M318.7 175.7h0M319.5 173.7h0M326.2 172.5h0M333.4 166.5h0M330.0 173.0h0M331.2 168.8h0M317.5 173.9h0M323.7 175.6h0M326.9 170.9h0M323.8 171.4h0M322.0 175.6h0M334.9 173.3h0M324.6 174.2h0M319.8 169.5h0M343.1 164.5h0M329.1 170.6h0M315.4 171.4h0M333.1 172.3h0M361.9 166.3h0M340.6 171.9h0M344.9 173.6h0M347.9 171.4h0M333.0 170.3h0M321.2 172.0h0M342.8 166.7h0M317.9 177.6h0M328.9 172.0h0M335.8 169.4h0M331.6 173.9h0M324.0 171.2h0M318.1 173.8h0M360.5 171.2h0M337.6 167.1h0M322.2 176.3h0M318.6 169.5h0M329.5 172.5h0M329.0 174.2h0M330.0 173.9h0M349.8 171.3h0M321.0 174.8h0M333.5 170.1h0M315.6 178.4h0M325.1 168.1h0M351.0 166.4h0M317.3 168.5h0M339.1 173.2h0M323.9 178.8h0M326.0 173.5h0M322.5 172.6h0M334.2 169.9h0M335.5 172.2h0M341.3 170.2h0M324.1 171.4h0M321.0 176.9h0M345.5 164.1h0M322.0 175.5h0M335.4 169.9h0M321.4 169.0h0M335.0 173.0h0M319.6 172.4h0M338.9 158.2h0M321.1 173.1h0M328.8 168.3h0M331.1 170.3h0M327.3 170.9h0M339.2 168.1h0M339.1 170.9h0M331.3 171.7h0M355.2 165.6h0M320.0 171.6h0M322.0 170.6h0M313.5 176.6h0M330.5 171.1h0M324.9 168.2h0M333.4 168.2h0M320.9 171.2h0M320.1 163.2h0M328.8 173.2h0M321.8 170.8h0M332.0 166.8h0M331.8 163.1h0M327.1 167.7h0M338.2 171.2h0M329.5 167.7h0M324.1 174.9h0M319.8 165.3h0M333.0 174.1h0M320.8 170.3h0M342.3 168.2h0M332.5 173.8h0M323.0 174.2h0M318.6 173.8h0M317.7 177.0h0M349.5 171.8h0M313.8 175.6h0M320.7 169.9h0M332.8 166.8h0M340.9 171.3h0M356.3 169.2h0M335.8 169.9h0M329.9 172.8h0M334.4 171.6h0M317.3 170.1h0M321.0 171.5h0M319.1 172.7h0M318.0 174.3h0M379.8 161.3h0M320.0 174.2h0M342.1 169.5h0M314.3 176.0h0M313.8 174.8h0M328.9 171.1h0M337.0 171.6h0M317.9 171.0h0M325.4 171.5h0M349.8 173.2h0M347.0 176.2h0M319.8 169.4h0M359.8 169.7h0M354.0 164.2h0M342.7 169.8h0M316.2 175.0h0M321.1 170.5h0M333.8 171.6h0M327.3 171.5h0M329.1 174.1h0M334.5 168.8h0M331.2 167.8h0M339.0 171.8h0M355.1 163.1h0M331.4 172.8h0M324.4 171.1h0M328.3 176.3h0M318.0 178.3h0M329.9 165.0h0M347.0 165.1h0M314.1 169.6h0M314.7 178.0h0M343.1 169.1h0M321.7 170.9h0M327.1 171.3h0M334.3 169.9h0M359.8 170.7h0M342.6 170.3h0M342.9 173.2h0M338.1 171.4h0M320.3 171.2h0M334.3 173.1h0M353.9 169.4h0M312.6 174.4h0M314.1 169.5h0M336.4 167.8h0M317.9 171.9h0M325.0 170.6h0M332.2 175.3h0M357.8 169.2h0M328.1 169.0h0M331.3 173.7h0M349.6 170.4h0M321.2 175.1h0M316.7 168.7h0M349.5 170.4h0M313.6 175.2h0M315.6 171.0h0M317.4 169.4h0M339.0 168.8h0M339.8 167.2h0M335.7 170.0h0M344.5 170.0h0M320.5 173.6h0M325.7 173.2h0M322.1 173.9h0M328.7 170.3h0M328.3 171.8h0M317.8 167.5h0M332.6 169.1h0M336.5 170.7h0M338.5 174.4h0M326.3 174.0h0M330.9 174.5h0M324.9 177.5h0M314.6 172.6h0M346.9 172.9h0M347.5 173.1h0M319.4 175.6h0M325.1 169.2h0M331.2 167.6h0M334.1 167.8h0M329.8 171.5h0M328.0 172.8h0M331.6 169.4h0M316.3 171.0h0M331.2 170.8h0M325.9 174.8h0M365.7 168.7h0M357.8 171.7h0M333.9 171.6h0M324.4 171.6h0M340.0 165.7h0M319.9 168.2h0M351.0 166.9h0M325.2 168.9h0M329.5 170.6h0M319.5 154.2h0M320.8 167.7h0M360.0 160.1h0M335.7 169.5h0M325.2 170.6h0M344.0 166.6h0M326.2 171.1h0M331.5 170.2h0M333.0 173.9h0M321.3 169.4h0M328.3 171.0h0M340.8 167.6h0M334.2 171.4h0M316.8 178.0h0M325.0 170.3h0M375.7 162.7h0M319.5 176.2h0M321.9 175.1h0M329.2 172.2h0M317.4 161.6h0M314.8 178.0h0M349.6 163.9h0M315.7 169.8h0M345.0 171.4h0M331.0 176.6h0M332.7 169.9h0M362.6 152.9h0M318.5 170.1h0M316.1 169.4h0M345.1 172.4h0M345.7 168.8h0M333.5 175.4h0M320.4 166.4h0M317.5 171.0h0M325.7 178.0h0M333.4 176.4h0M318.0 171.2h0M344.5 169.2h0M322.0 173.1h0M324.8 170.0h0M344.7 163.7h0M323.8 170.9h0M343.4 175.2h0M331.1 171.6h0M321.0 176.2h0M321.9 174.6h0M334.7 169.8h0M338.7 170.8h0M339.3 173.4h0M348.1 169.4h0M338.4 172.8h0M336.3 169.0h0M325.8 172.5h0M328.0 170.3h0M318.9 173.3h0M322.6 169.9h0M328.3 171.9h0M324.4 171.9h0M314.6 174.7h0M318.0 172.2h0M352.1 174.1h0M317.4 164.7h0M347.8 171.3h0M332.7 170.7h0M336.4 172.0h0M336.9 172.0h0M323.6 170.8h0M320.7 173.9h0M323.1 173.3h0M338.2 174.5h0M318.6 175.3h0M329.0 174.9h0M331.8 165.7h0M335.2 174.7h0M333.5 174.1h0M317.0 163.2h0M360.0 163.7h0M322.2 177.2h0M337.8 175.1h0M327.3 171.2h0M326.3 170.7h0M322.6 176.4h0M352.5 174.2h0M324.5 174.8h0M317.6 170.5h0M317.2 172.9h0M322.2 170.0h0M343.8 170.1h0M324.4 172.0h0M329.2 169.6h0M344.8 170.0h0M339.8 169.5h0M341.3 172.8h0M337.0 172.3h0M329.0 170.0h0M331.3 171.9h0M335.1 173.0h0M331.4 169.2h0M329.7 169.7h0M323.3 172.1h0M320.0 174.7h0M325.8 166.1h0M320.9 164.9h0M316.4 175.3h0M341.8 174.6h0M319.1 174.9h0M341.2 172.9h0M336.4 174.4h0M328.3 175.0h0M354.5 166.1h0M316.8 170.2h0M329.1 167.0h0M349.9 166.9h0M332.5 172.5h0M321.0 155.3h0M317.4 174.6h0M329.4 163.5h0M316.5 176.3h0M339.7 166.6h0M336.5 167.6h0M313.5 174.6h0M323.0 173.0h0M350.1 169.0h0M338.3 169.8h0M318.9 170.1h0M317.6 172.5h0M317.8 171.5h0M320.4 165.3h0M334.4 171.8h0M331.1 176.6h0M351.1 163.7h0M334.0 166.7h0M343.5 167.7h0M326.0 168.5h0M323.2 166.1h0M321.1 169.5h0M317.7 177.5h0M360.7 168.6h0M319.8 179.5h0M344.2 168.3h0M323.8 175.8h0M335.1 158.9h0M336.4 169.5h0M348.8 172.0h0M321.8 173.1h0M330.7 165.7h0M323.9 172.5h0M336.7 171.2h0M346.4 176.7h0M319.8 173.8h0M340.0 167.9h0M324.5 171.2h0M315.7 177.4h0M319.7 173.3h0M334.2 170.1h0M330.3 174.2h0M320.8 170.4h0M324.4 174.4h0M329.1 172.5h0M339.7 170.6h0M319.2 165.9h0M318.4 173.6h0M343.3 171.6h0M325.2 169.8h0M318.5 174.1h0M346.1 169.0h0M333.1 177.8h0M321.6 171.4h0M327.1 171.8h0M328.8 175.4h0M318.7 168.6h0M320.0 173.2h0M350.9 169.6h0M332.2 175.0h0M329.7 176.3h0M329.8 173.1h0M325.0 176.5h0M328.2 170.1h0M342.6 167.4h0M324.7 161.8h0M336.7 164.9h0M315.0 174.2h0M327.3 174.8h0M337.6 170.0h0M331.2 170.7h0M321.0 173.7h0M334.6 170.7h0M352.7 165.8h0M313.3 168.2h0M330.1 172.9h0M329.3 169.3h0M330.5 161.8h0M318.6 175.8h0M348.4 155.5h0M319.0 171.4h0M327.5 171.3h0M336.8 169.6h0M339.5 170.8h0M352.7 172.0h0M318.8 167.3h0M321.2 169.7h0M338.7 169.6h0M335.4 167.9h0M327.1 167.9h0M313.0 173.9h0M327.4 169.9h0M326.3 172.8h0M325.3 170.0h0M315.7 173.7h0M347.3 162.2h0M316.5 174.0h0M333.8 169.4h0M321.7 170.9h0M346.1 170.6h0M320.6 169.6h0M320.7 172.7h0M340.7 171.4h0M318.8 172.6h0M336.7 172.9h0M323.2 168.6h0M326.9 169.9h0M343.1 167.0h0M339.9 174.3h0M322.8 171.4h0M333.9 173.3h0M334.6 170.6h0M337.9 166.7h0M322.4 171.5h0M357.7 168.8h0M321.0 169.0h0M317.1 169.8h0M324.5 166.5h0M329.1 169.3h0M373.8 165.6h0M319.7 173.8h0M326.7 174.4h0M321.6 165.9h0M328.6 175.0h0M325.1 178.6h0M346.3 172.3h0M320.0 173.3h0M321.5 166.8h0M334.1 173.1h0M327.8 175.1h0M343.0 175.8h0M322.3 173.3h0M340.6 170.9h0M322.7 171.8h0M320.4 176.8h0M339.3 172.6h0M330.8 178.1h0M330.4 170.8h0M318.2 177.4h0M321.9 180.5h0M331.0 167.8h0M321.4 170.8h0M318.7 171.6h0M321.3 171.3h0M326.9 174.8h0M317.4 169.6h0M339.6 173.5h0M316.6 167.2h0M324.9 171.3h0M329.2 177.0h0M321.7 159.5h0M326.6 165.9h0M314.7 162.2h0M322.2 169.1h0M334.8 171.5h0M329.9 173.3h0M324.1 179.7h0M332.0 167.5h0M323.7 173.4h0M323.2 171.0h0M337.4 174.0h0M323.3 174.8h0M320.9 169.1h0M338.1 171.6h0M365.4 168.7h0M314.1 176.9h0M347.4 168.8h0M353.8 166.4h0M321.0 173.8h0M316.9 173.4h0M319.1 163.9h0M335.8 153.7h0M320.2 174.3h0M315.1 173.5h0M315.3 168.0h0M333.0 171.7h0M327.3 176.3h0M327.4 174.4h0M324.3 173.1h0M344.0 164.5h0M324.2 167.4h0M327.9 172.3h0M343.2 167.4h0M333.5 167.1h0M316.7 175.1h0M352.5 164.6h0M319.8 169.9h0M317.6 171.4h0M332.8 178.1h0M316.3 172.3h0M321.6 168.1h0M340.1 171.1h0M332.9 164.1h0M327.4 171.4h0M345.9 172.6h0M322.4 170.4h0M318.7 171.7h0M344.0 167.3h0M349.1 169.9h0M328.4 167.6h0M333.3 172.7h0M335.4 170.4h0M325.8 175.6h0M313.8 175.5h0M335.1 170.2h0M323.8 174.0h0M330.6 172.6h0M326.7 161.7h0M343.7 169.1h0M332.4 168.8h0M327.4 169.3h0M313.7 170.1h0M322.9 171.5h0M350.8 170.7h0M358.7 172.9h0M338.1 171.5h0M329.0 173.8h0M325.2 177.3h0M314.1 168.1h0M319.8 178.0h0M332.5 170.0h0M323.5 170.4h0M334.8 158.1h0M333.2 163.2h0M349.3 169.1h0M345.1 172.0h0M334.7 156.0h0M336.7 173.0h0M347.3 173.8h0M336.8 173.6h0M320.7 164.6h0M328.3 171.4h0M333.7 169.9h0M356.2 173.0h0M328.1 170.5h0M318.5 165.9h0M355.7 170.6h0M315.3 173.4h0M329.6 169.3h0M324.3 168.3h0M325.9 173.8h0M358.2 171.1h0M321.1 175.4h0M317.0 169.5h0M326.0 169.1h0M324.7 178.5h0M333.1 177.5h0M323.0 175.9h0M321.1 176.9h0M327.2 170.4h0M325.5 171.2h0M319.5 166.6h0M319.0 170.2h0M327.3 171.3h0M338.5 166.8h0M328.5 169.4h0M320.5 176.6h0M320.7 172.3h0M321.3 155.3h0M322.8 177.0h0M363.3 164.9h0M334.7 168.2h0M324.2 173.5h0M316.8 172.3h0M345.3 170.5h0M330.2 171.1h0M354.0 166.2h0M345.1 172.1h0M324.5 168.8h0M335.9 168.0h0M314.1 170.4h0M326.1 177.7h0M327.0 177.3h0M325.3 169.8h0M320.1 174.2h0M322.5 174.3h0M315.6 175.2h0M347.0 173.5h0M316.7 173.7h0M319.4 174.7h0M369.8 168.9h0M322.1 170.8h0M346.3 173.1h0M346.1 162.5h0M321.0 179.1h0M326.1 164.2h0M316.4 177.0h0M334.7 169.0h0M359.3 165.3h0M337.6 170.5h0M315.9 170.6h0M370.1 167.2h0M326.1 177.1h0M343.1 168.8h0M328.8 168.0h0M327.1 173.3h0M348.0 174.5h0M359.2 169.9h0M334.5 169.9h0M347.5 156.8h0M319.3 169.2h0M325.7 170.1h0M324.8 170.4h0M320.4 178.5h0M339.2 154.8h0M323.6 171.9h0M321.8 169.6h0M328.2 172.6h0M321.6 172.7h0M314.2 172.9h0M324.5 167.2h0M315.1 168.4h0M348.6 167.4h0M336.4 164.6h0M334.3 172.0h0M327.4 170.0h0M320.7 173.7h0M344.5 165.8h0M325.9 171.7h0M339.0 167.3h0M328.2 166.3h0M334.0 177.2h0M331.4 164.6h0M318.6 171.6h0M318.6 173.6h0M328.6 177.3h0M317.2 173.7h0M322.9 179.1h0M324.6 157.6h0M330.3 166.8h0M325.6 166.2h0M341.6 171.0h0M327.2 168.4h0M315.9 169.3h0M321.9 165.9h0M315.6 173.7h0M331.4 168.8h0M353.1 173.4h0M323.6 175.4h0M335.5 171.5h0M348.4 169.3h0M325.0 175.6h0M341.1 171.3h0M341.8 167.8h0M337.2 171.9h0M337.4 171.0h0M333.0 173.7h0M315.4 168.7h0M317.6 167.2h0M322.2 171.5h0M321.1 172.6h0M342.9 164.8h0M338.6 168.9h0M329.5 173.4h0M335.9 174.8h0M326.0 173.5h0M324.4 165.2h0M322.8 173.9h0M326.1 162.9h0M319.3 172.5h0M324.6 172.6h0M344.7 165.6h0M313.7 173.8h0M323.0 170.9h0M380.0 168.9h0M335.7 164.0h0M329.2 173.6h0M321.6 171.5h0M322.9 174.1h0M353.9 174.6h0M345.7 168.1h0M344.0 170.2h0M341.9 170.8h0M324.7 173.7h0M329.8 178.2h0M323.7 167.1h0M313.1 174.6h0M321.7 170.6h0M315.2 168.7h0M332.6 167.5h0M349.7 168.5h0M343.4 169.8h0M316.7 171.8h0M314.7 170.2h0M325.8 170.0h0M330.4 168.1h0M322.1 170.8h0M331.8 169.9h0M320.6 170.2h0M330.8 170.6h0M345.3 165.4h0M330.0 170.7h0M328.3 168.7h0M325.1 171.7h0M342.9 171.6h0M320.9 175.2h0M327.5 172.0h0M322.6 170.5h0M324.2 168.0h0M326.0 172.0h0M314.9 164.4h0M335.9 172.2h0M350.3 165.1h0M352.4 168.5h0M356.7 169.8h0M313.7 170.8h0M324.6 175.9h0M325.5 171.4h0M335.9 170.7h0M325.0 172.2h0M328.4 175.0h0M319.1 165.2h0M344.2 151.8h0M318.5 176.6h0M328.7 171.0h0M367.4 165.1h0M330.5 164.3h0M324.7 166.9h0M345.3 172.5h0M340.1 170.2h0M326.5 165.5h0M328.0 171.3h0M333.6 159.5h0M354.4 163.1h0M323.7 178.5h0M335.2 177.3h0M321.7 169.4h0M315.5 170.5h0M333.3 175.1h0M319.1 170.9h0M325.7 171.6h0M342.1 169.3h0M319.3 174.9h0M326.2 173.1h0M325.1 174.5h0M317.3 172.5h0M327.7 172.2h0M335.2 165.5h0M315.8 170.9h0M323.2 176.8h0M331.8 169.8h0M335.2 166.3h0M331.2 170.3h0M368.1 163.7h0M337.7 170.5h0M339.3 168.1h0M323.8 174.8h0M334.2 168.4h0M339.8 174.4h0M328.8 167.4h0M324.1 171.8h0M346.3 175.9h0M323.0 170.4h0M320.2 163.3h0M330.7 170.8h0M334.4 169.5h0M326.6 171.7h0M321.7 174.9h0M333.1 156.7h0M323.5 170.9h0M323.0 170.5h0M324.5 165.8h0M315.8 175.1h0M320.0 172.2h0M317.8 170.9h0M337.0 171.9h0M334.5 174.4h0M315.1 174.7h0M319.0 169.2h0M326.6 172.5h0M357.3 161.5h0M328.9 173.6h0M325.0 170.5h0M339.6 172.3h0M328.5 174.0h0M324.1 171.6h0M315.2 172.7h0M339.5 165.7h0M349.8 174.0h0M328.4 169.9h0M332.1 166.1h0M319.8 168.2h0M337.5 171.6h0M325.3 173.9h0M321.9 173.7h0M351.6 168.0h0M334.1 170.2h0M342.8 168.8h0M333.7 169.0h0M317.7 175.9h0M314.8 176.4h0M320.1 176.1h0M334.6 174.9h0M324.6 172.2h0M325.3 170.8h0M329.5 153.7h0M323.1 170.4h0M322.6 172.0h0M323.5 167.6h0M325.2 174.0h0M317.6 171.6h0M334.1 167.8h0M326.1 169.3h0M328.7 170.2h0M322.1 173.2h0M340.0 174.0h0M315.3 173.4h0M323.1 173.9h0M340.9 168.0h0M330.5 171.6h0M329.8 169.6h0M318.4 177.5h0M317.2 169.7h0M329.1 174.0h0M327.8 176.3h0M345.5 173.8h0M320.9 174.2h0M323.8 168.5h0M322.6 169.9h0M322.3 175.7h0M325.3 171.5h0M328.1 171.8h0M350.8 173.8h0M326.9 174.6h0M333.1 177.2h0M347.1 172.0h0M327.0 179.7h0M322.8 174.5h0M347.6 172.2h0M322.9 174.5h0M325.5 174.3h0M325.5 168.2h0M329.4 172.4h0M349.1 168.4h0M355.0 166.2h0M336.7 167.8h0M324.6 169.8h0M354.1 170.3h0M320.3 175.7h0M328.6 164.5h0M355.6 159.8h0M330.8 171.2h0M316.9 173.0h0M329.5 168.0h0M330.8 158.4h0M340.4 160.0h0M317.0 169.6h0M352.5 170.2h0M318.6 169.9h0M339.5 179.0h0M318.3 168.4h0M320.4 171.1h0M331.5 158.5h0M321.1 177.4h0M326.0 164.0h0M343.9 170.5h0M325.5 172.2h0M318.6 169.1h0M342.5 170.5h0M325.8 174.3h0M315.0 170.9h0M331.2 174.2h0M329.4 169.1h0M320.0 172.0h0M329.3 167.9h0M327.8 175.2h0M326.5 167.9h0M325.2 170.9h0M315.6 166.8h0M333.6 172.9h0M329.4 162.8h0M318.6 170.4h0M332.4 168.6h0M351.0 171.2h0M318.0 170.9h0M332.7 168.9h0M313.6 175.6h0M326.8 175.2h0M348.7 171.6h0M318.3 168.1h0M317.8 172.1h0M332.2 168.2h0M330.7 170.3h0M322.1 171.8h0M335.1 170.0h0M320.5 173.6h0M334.9 167.0h0M350.6 168.5h0M318.1 171.9h0M344.6 173.9h0M347.9 168.3h0M323.8 174.0h0M345.1 171.1h0M324.3 168.7h0M336.1 173.9h0M359.4 168.6h0M333.3 169.0h0M334.1 167.3h0M320.0 174.0h0M316.9 171.7h0M324.3 171.0h0M323.1 175.5h0M332.5 177.5h0M313.8 178.9h0M335.7 168.8h0M319.6 172.1h0M320.0 176.5h0M355.6 170.4h0M319.8 173.6h0M318.2 173.7h0M355.6 168.5h0M317.2 166.0h0M337.9 172.8h0M338.5 162.4h0M320.5 174.7h0M339.9 172.1h0M319.4 175.1h0M323.9 172.6h0M341.2 171.7h0M339.8 169.1h0M328.8 170.8h0M327.5 174.3h0M314.9 167.1h0M327.0 164.4h0M331.0 170.1h0M321.6 165.6h0M318.0 174.8h0M351.2 164.9h0M331.2 166.8h0M330.6 170.2h0M315.0 178.6h0M344.8 152.8h0M330.4 170.9h0M323.6 173.6h0M319.3 168.6h0M329.3 160.9h0M325.3 168.6h0M335.1 172.4h0M335.0 169.1h0M342.5 173.2h0M325.5 173.0h0M350.1 171.8h0M318.8 171.1h0M327.7 171.0h0M321.1 172.8h0M321.4 171.7h0M324.6 168.0h0M352.1 169.2h0M313.9 178.7h0M319.3 173.3h0M321.8 171.9h0M327.9 155.0h0M314.4 169.8h0M339.6 167.3h0M335.5 171.4h0M323.0 170.1h0M320.5 176.7h0M318.6 168.6h0M348.4 167.9h0M345.1 168.0h0M319.5 173.6h0M355.8 168.2h0M338.0 172.4h0M328.8 169.7h0M327.1 175.6h0M329.6 168.4h0M347.5 167.7h0M315.1 166.8h0M340.0 170.3h0M334.8 171.0h0M328.6 170.8h0M320.8 172.2h0M329.3 171.7h0M320.5 175.7h0M324.7 175.2h0M315.7 174.6h0M326.5 172.5h0M313.5 176.7h0M326.7 175.2h0M317.2 173.6h0M324.3 162.6h0M325.9 172.3h0M334.7 168.7h0M320.9 169.3h0M317.6 170.3h0M323.4 173.3h0M337.0 165.1h0M337.7 176.1h0M343.0 171.9h0M341.1 168.6h0M337.3 173.8h0M317.2 168.6h0M361.5 163.4h0M333.1 172.1h0M322.8 169.3h0M317.9 176.9h0M326.9 174.8h0M317.0 173.8h0M323.9 163.0h0M338.6 170.9h0M332.5 173.6h0M339.9 164.2h0M312.0 172.4h0M333.8 170.0h0M346.8 167.3h0M328.7 170.9h0M331.4 171.8h0M322.4 173.8h0M330.0 176.2h0M336.7 166.0h0M319.8 175.2h0M328.1 176.5h0M328.9 173.8h0M322.5 177.0h0M320.7 166.2h0M361.8 166.6h0M327.9 162.5h0M318.2 168.2h0M329.5 169.6h0M332.5 169.2h0M336.6 172.7h0M344.6 169.9h0M327.1 173.4h0M345.6 169.4h0M342.7 172.0h0M337.8 166.5h0M325.7 169.4h0M356.1 168.7h0M323.0 177.1h0M324.9 169.8h0M325.5 169.1h0M329.9 171.5h0M344.1 173.5h0M332.1 169.7h0M323.6 168.8h0M341.5 175.8h0M321.8 170.5h0M323.2 177.5h0M330.5 171.0h0M333.8 165.5h0M324.6 171.6h0M321.5 170.7h0M320.0 173.4h0M324.9 171.9h0M326.3 164.5h0" stroke="#1b5b97" stroke-width="1.2" stroke-linecap="square" fill="none"/>
<polygon points="311.08,172.59 315.77,172.15 320.47,171.69 325.17,171.20 329.87,170.68 334.57,170.13 339.27,169.55 343.97,168.94 348.66,168.33 353.36,167.70 358.06,167.07 362.76,166.43 367.46,165.78 372.16,165.14 376.86,164.49 381.55,163.84 381.55,167.27 376.86,167.66 372.16,168.05 367.46,168.45 362.76,168.84 358.06,169.25 353.36,169.65 348.66,170.07 343.97,170.49 339.27,170.94 334.57,171.40 329.87,171.89 325.17,172.41 320.47,172.96 315.77,173.54 311.08,174.14" fill="#f07088" fill-opacity="0.22"/>
<polyline points="311.08,172.59 315.77,172.15 320.47,171.69 325.17,171.20 329.87,170.68 334.57,170.13 339.27,169.55 343.97,168.94 348.66,168.33 353.36,167.70 358.06,167.07 362.76,166.43 367.46,165.78 372.16,165.14 376.86,164.49 381.55,163.84" fill="none" stroke="#e5506c" stroke-width="0.55"/>
<polyline points="311.08,174.14 315.77,173.54 320.47,172.96 325.17,172.41 329.87,171.89 334.57,171.40 339.27,170.94 343.97,170.49 348.66,170.07 353.36,169.65 358.06,169.25 362.76,168.84 367.46,168.45 372.16,168.05 376.86,167.66 381.55,167.27" fill="none" stroke="#e5506c" stroke-width="0.55"/>
<line x1="311.08" y1="173.37" x2="381.55" y2="165.55" stroke="#2a0a12" stroke-width="1.1" />
<line x1="310.00" y1="135.50" x2="310.00" y2="192.30" stroke="#222" stroke-width="1.0" />
<line x1="309.50" y1="192.30" x2="391.20" y2="192.30" stroke="#222" stroke-width="1.0" />
<line x1="307.00" y1="192.30" x2="310.00" y2="192.30" stroke="#222" stroke-width="0.7" />
<text x="305.40" y="194.89" font-size="7.4" text-anchor="end" fill="#555" >0</text>
<line x1="307.00" y1="178.10" x2="310.00" y2="178.10" stroke="#222" stroke-width="0.7" />
<text x="305.40" y="180.69" font-size="7.4" text-anchor="end" fill="#555" >20</text>
<line x1="307.00" y1="163.90" x2="310.00" y2="163.90" stroke="#222" stroke-width="0.7" />
<text x="305.40" y="166.49" font-size="7.4" text-anchor="end" fill="#555" >40</text>
<line x1="307.00" y1="149.70" x2="310.00" y2="149.70" stroke="#222" stroke-width="0.7" />
<text x="305.40" y="152.29" font-size="7.4" text-anchor="end" fill="#555" >60</text>
<line x1="307.00" y1="135.50" x2="310.00" y2="135.50" stroke="#222" stroke-width="0.7" />
<text x="305.40" y="138.09" font-size="7.4" text-anchor="end" fill="#555" >80</text>
<line x1="310.00" y1="192.30" x2="310.00" y2="195.10" stroke="#222" stroke-width="0.75" />
<line x1="312.69" y1="192.30" x2="312.69" y2="194.10" stroke="#222" stroke-width="0.75" />
<line x1="315.38" y1="192.30" x2="315.38" y2="194.10" stroke="#222" stroke-width="0.75" />
<line x1="318.07" y1="192.30" x2="318.07" y2="194.10" stroke="#222" stroke-width="0.75" />
<line x1="320.76" y1="192.30" x2="320.76" y2="194.10" stroke="#222" stroke-width="0.75" />
<line x1="323.45" y1="192.30" x2="323.45" y2="194.10" stroke="#222" stroke-width="0.75" />
<line x1="326.14" y1="192.30" x2="326.14" y2="194.10" stroke="#222" stroke-width="0.75" />
<line x1="328.83" y1="192.30" x2="328.83" y2="194.10" stroke="#222" stroke-width="0.75" />
<line x1="331.52" y1="192.30" x2="331.52" y2="194.10" stroke="#222" stroke-width="0.75" />
<line x1="334.21" y1="192.30" x2="334.21" y2="194.10" stroke="#222" stroke-width="0.75" />
<line x1="336.90" y1="192.30" x2="336.90" y2="195.10" stroke="#222" stroke-width="0.75" />
<line x1="339.59" y1="192.30" x2="339.59" y2="194.10" stroke="#222" stroke-width="0.75" />
<line x1="342.28" y1="192.30" x2="342.28" y2="194.10" stroke="#222" stroke-width="0.75" />
<line x1="344.97" y1="192.30" x2="344.97" y2="194.10" stroke="#222" stroke-width="0.75" />
<line x1="347.66" y1="192.30" x2="347.66" y2="194.10" stroke="#222" stroke-width="0.75" />
<line x1="350.35" y1="192.30" x2="350.35" y2="194.10" stroke="#222" stroke-width="0.75" />
<line x1="353.04" y1="192.30" x2="353.04" y2="194.10" stroke="#222" stroke-width="0.75" />
<line x1="355.73" y1="192.30" x2="355.73" y2="194.10" stroke="#222" stroke-width="0.75" />
<line x1="358.42" y1="192.30" x2="358.42" y2="194.10" stroke="#222" stroke-width="0.75" />
<line x1="361.11" y1="192.30" x2="361.11" y2="194.10" stroke="#222" stroke-width="0.75" />
<line x1="363.80" y1="192.30" x2="363.80" y2="195.10" stroke="#222" stroke-width="0.75" />
<line x1="366.49" y1="192.30" x2="366.49" y2="194.10" stroke="#222" stroke-width="0.75" />
<line x1="369.18" y1="192.30" x2="369.18" y2="194.10" stroke="#222" stroke-width="0.75" />
<line x1="371.87" y1="192.30" x2="371.87" y2="194.10" stroke="#222" stroke-width="0.75" />
<line x1="374.56" y1="192.30" x2="374.56" y2="194.10" stroke="#222" stroke-width="0.75" />
<line x1="377.25" y1="192.30" x2="377.25" y2="194.10" stroke="#222" stroke-width="0.75" />
<line x1="379.94" y1="192.30" x2="379.94" y2="194.10" stroke="#222" stroke-width="0.75" />
<line x1="382.63" y1="192.30" x2="382.63" y2="194.10" stroke="#222" stroke-width="0.75" />
<line x1="385.32" y1="192.30" x2="385.32" y2="194.10" stroke="#222" stroke-width="0.75" />
<line x1="388.01" y1="192.30" x2="388.01" y2="194.10" stroke="#222" stroke-width="0.75" />
<line x1="390.70" y1="192.30" x2="390.70" y2="195.10" stroke="#222" stroke-width="0.75" />
<text x="310.00" y="204.49" font-size="7.4" text-anchor="middle" fill="#555" >0</text>
<text x="336.90" y="204.49" font-size="7.4" text-anchor="middle" fill="#555" >100</text>
<text x="363.80" y="204.49" font-size="7.4" text-anchor="middle" fill="#555" >200</text>
<text x="390.70" y="204.49" font-size="7.4" text-anchor="middle" fill="#555" >300</text>
<text x="350.15" y="215.62" font-size="9.5" text-anchor="middle" fill="#222" textLength="54.8" lengthAdjust="spacingAndGlyphs" stroke="#222" stroke-width="0.28">Day 1 PB CD34 /μL</text>
<text x="351.85" y="124.71" font-size="8.6" text-anchor="middle" fill="#222" font-weight="bold" textLength="14.5" lengthAdjust="spacingAndGlyphs" >BMI</text>
<text transform="translate(287.70,163.90) rotate(-90)" x="0" y="3.08" font-size="8.8" text-anchor="middle" fill="#222" textLength="9.7" lengthAdjust="spacingAndGlyphs" stroke="#222" stroke-width="0.28">BMI</text>
<text x="360.50" y="140.98" font-size="8.8" text-anchor="start" fill="#555" textLength="27.4" lengthAdjust="spacingAndGlyphs" ><tspan font-style="italic">r</tspan> = 0.28</text>
<path d="M361.55,142.45V144.75M360.55,143.02L362.55,144.18M360.55,144.18L362.55,143.02" stroke="#333" stroke-width="0.75" fill="none"/><path d="M364.35,142.45V144.75M363.35,143.02L365.35,144.18M363.35,144.18L365.35,143.02" stroke="#333" stroke-width="0.75" fill="none"/><path d="M367.15,142.45V144.75M366.15,143.02L368.15,144.18M366.15,144.18L368.15,143.02" stroke="#333" stroke-width="0.75" fill="none"/><path d="M369.95,142.45V144.75M368.95,143.02L370.95,144.18M368.95,144.18L370.95,143.02" stroke="#333" stroke-width="0.75" fill="none"/>
<path d="M456.05 190.34h0M455.88 190.33h0M457.15 189.55h0M456.09 189.55h0M457.41 189.33h0M453.73 189.05h0M457.97 188.45h0M454.07 188.43h0M454.33 188.34h0M456.43 188.08h0M457.24 187.89h0M453.69 187.84h0M458.17 187.55h0M455.85 187.31h0M458.00 187.20h0M454.86 187.19h0M454.85 187.16h0M456.28 187.02h0M457.33 186.97h0M458.27 186.92h0M454.60 186.85h0M457.03 186.74h0M453.79 186.47h0M457.84 186.44h0M455.12 186.40h0M459.92 186.38h0M458.12 186.36h0M452.08 186.33h0M457.30 186.25h0M454.88 186.24h0M454.35 186.19h0M453.24 186.08h0M457.94 186.00h0M459.43 185.90h0M455.46 185.83h0M455.98 185.80h0M454.37 185.80h0M459.05 185.79h0M460.80 185.70h0M455.52 185.66h0M455.50 185.59h0M452.90 185.52h0M453.82 185.30h0M454.91 185.26h0M455.13 185.26h0M452.59 185.13h0M454.56 185.08h0M451.49 185.04h0M453.75 184.98h0M457.61 184.80h0M460.22 184.68h0M453.07 184.66h0M458.07 184.59h0M453.20 184.50h0M460.67 184.48h0M453.39 184.20h0M451.32 184.10h0M460.67 184.07h0M454.40 184.04h0M452.97 183.99h0M455.53 183.91h0M459.57 183.90h0M454.90 183.86h0M455.57 183.82h0M457.55 183.46h0M451.13 183.44h0M460.15 183.41h0M458.16 183.33h0M456.93 183.32h0M454.55 183.23h0M460.75 183.21h0M451.70 183.20h0M451.02 183.15h0M456.93 182.91h0M457.75 182.90h0M452.56 182.82h0M459.38 182.72h0M455.38 182.70h0M454.41 182.56h0M458.08 182.53h0M455.12 182.38h0M452.81 182.33h0M455.34 182.32h0M451.64 182.31h0M454.20 182.28h0M456.79 182.28h0M452.08 182.19h0M455.42 182.06h0M455.83 181.95h0M451.80 181.93h0M453.46 181.68h0M452.05 181.62h0M456.17 181.50h0M457.18 181.42h0M451.83 181.37h0M456.56 181.30h0M458.93 181.15h0M452.35 181.10h0M456.74 181.06h0M454.61 180.92h0M453.31 180.77h0M458.75 180.70h0M454.65 180.52h0M458.24 180.04h0M458.59 180.02h0M454.40 179.99h0M458.35 179.94h0M458.43 179.68h0M453.10 179.61h0M458.22 179.59h0M456.74 179.35h0M453.35 179.27h0M456.14 178.97h0M457.70 178.86h0M457.29 177.95h0M457.37 177.80h0M456.05 177.57h0M454.77 177.39h0M455.61 176.68h0M455.57 176.11h0M456.24 175.87h0M455.68 174.63h0M456.06 173.44h0M455.85 171.82h0M455.98 169.21h0M456.10 169.00h0M456.11 162.44h0M455.83 157.42h0M455.98 154.00h0M455.94 148.98h0" stroke="#d01c45" stroke-width="1.35" stroke-linecap="round" fill="none"/>
<path d="M474.06 190.12h0M474.68 188.82h0M474.70 188.70h0M472.06 188.30h0M472.00 188.28h0M475.68 188.25h0M472.77 188.11h0M474.93 187.98h0M471.02 187.98h0M474.38 187.88h0M472.14 187.77h0M474.87 187.68h0M471.02 187.56h0M476.64 187.21h0M475.22 187.13h0M474.77 186.98h0M473.58 186.85h0M476.32 186.67h0M473.27 186.62h0M475.01 186.59h0M472.87 186.55h0M469.45 186.46h0M473.45 186.41h0M476.58 186.32h0M475.12 186.26h0M469.95 186.24h0M469.43 186.24h0M470.70 186.15h0M475.01 186.11h0M471.93 186.07h0M471.34 186.05h0M477.42 186.04h0M469.04 186.01h0M476.94 186.00h0M472.30 185.92h0M476.92 185.80h0M471.66 185.72h0M473.98 185.72h0M470.11 185.65h0M471.51 185.65h0M475.31 185.62h0M475.66 185.56h0M470.34 185.55h0M475.27 185.52h0M478.83 185.51h0M474.90 185.50h0M471.48 185.49h0M475.72 185.48h0M474.71 185.44h0M475.49 185.39h0M477.43 185.31h0M478.49 185.30h0M470.03 185.23h0M471.02 185.18h0M469.78 185.18h0M479.25 185.11h0M479.11 185.11h0M476.60 185.06h0M475.18 185.00h0M469.96 184.89h0M471.60 184.84h0M469.62 184.75h0M472.21 184.70h0M469.20 184.69h0M468.32 184.67h0M468.74 184.63h0M473.14 184.62h0M469.92 184.59h0M468.68 184.46h0M476.75 184.36h0M476.88 184.31h0M478.98 184.29h0M477.35 184.23h0M479.06 184.21h0M475.60 184.08h0M474.16 184.02h0M472.79 183.99h0M471.82 183.89h0M468.05 183.88h0M476.30 183.84h0M471.64 183.74h0M476.58 183.71h0M479.08 183.68h0M477.27 183.62h0M473.89 183.61h0M474.49 183.49h0M478.44 183.29h0M470.68 183.28h0M474.86 183.25h0M474.96 183.24h0M475.04 183.18h0M471.28 183.08h0M473.29 183.07h0M473.87 182.96h0M477.30 182.90h0M479.37 182.86h0M468.45 182.84h0M477.35 182.79h0M473.63 182.79h0M475.53 182.77h0M474.30 182.76h0M477.44 182.73h0M472.70 182.68h0M472.57 182.68h0M474.40 182.67h0M479.39 182.65h0M472.87 182.63h0M472.90 182.63h0M473.88 182.62h0M479.71 182.57h0M469.76 182.57h0M474.98 182.56h0M475.10 182.51h0M478.43 182.51h0M472.00 182.44h0M475.17 182.35h0M470.89 182.24h0M472.49 182.21h0M468.81 182.20h0M471.21 182.20h0M472.50 182.19h0M471.44 182.16h0M472.79 182.12h0M471.33 182.06h0M470.95 181.96h0M471.98 181.92h0M475.78 181.90h0M475.22 181.90h0M479.34 181.87h0M469.63 181.75h0M477.32 181.74h0M469.00 181.68h0M470.68 181.67h0M468.30 181.66h0M473.80 181.55h0M468.31 181.47h0M468.92 181.44h0M475.43 181.30h0M475.45 181.25h0M469.34 181.19h0M475.13 181.19h0M473.01 181.09h0M477.83 181.08h0M474.62 180.91h0M474.07 180.90h0M479.06 180.85h0M471.42 180.76h0M473.31 180.68h0M476.67 180.62h0M476.12 180.48h0M469.06 180.47h0M468.78 180.44h0M471.54 180.37h0M478.50 180.13h0M469.48 180.11h0M469.06 180.05h0M477.96 180.04h0M470.26 180.03h0M472.00 180.00h0M477.35 179.97h0M472.81 179.86h0M469.40 179.86h0M472.99 179.84h0M476.02 179.84h0M470.51 179.82h0M471.59 179.63h0M472.25 179.59h0M469.25 179.52h0M475.54 179.48h0M470.05 179.42h0M471.19 179.42h0M473.32 179.27h0M476.13 179.24h0M470.04 179.23h0M477.92 179.05h0M473.86 179.02h0M470.88 179.02h0M470.99 178.98h0M474.13 178.89h0M470.26 178.89h0M471.00 178.58h0M477.55 178.51h0M476.86 178.44h0M474.74 178.40h0M475.79 178.31h0M470.68 178.29h0M472.00 178.28h0M469.93 178.27h0M474.43 178.09h0M469.95 178.06h0M470.78 177.93h0M477.40 177.54h0M470.83 177.51h0M477.29 177.48h0M474.08 177.46h0M473.71 177.40h0M471.18 177.32h0M473.06 177.25h0M472.78 177.02h0M475.09 176.84h0M476.93 176.74h0M472.66 176.69h0M470.77 176.63h0M476.74 176.55h0M473.70 176.49h0M473.24 176.48h0M475.42 176.45h0M474.66 176.26h0M474.04 176.22h0M471.66 176.13h0M475.53 175.95h0M472.38 175.69h0M474.39 175.59h0M472.13 175.47h0M472.40 175.28h0M474.45 175.22h0M475.07 175.21h0M476.22 175.16h0M474.71 174.95h0M474.48 174.91h0M474.29 174.88h0M472.78 174.81h0M475.64 174.22h0M474.14 173.73h0M472.00 173.54h0M473.71 173.27h0M473.19 173.16h0M472.52 172.92h0M474.51 172.89h0M474.94 172.86h0M475.22 172.58h0M475.13 172.56h0M475.52 172.52h0M472.75 172.21h0M474.04 172.04h0M473.49 172.01h0M474.50 171.49h0M474.35 170.93h0M472.58 170.89h0M473.20 170.41h0M473.05 170.41h0M472.68 170.30h0M473.24 169.83h0M473.76 169.06h0M473.40 168.74h0M473.06 168.74h0M474.42 168.55h0M473.00 167.49h0M473.35 167.13h0M474.11 166.95h0M473.67 165.72h0M474.00 165.71h0M473.23 165.68h0M474.39 165.68h0M473.75 160.85h0M473.95 160.61h0M473.77 154.20h0M473.95 152.39h0M473.62 149.78h0M473.73 146.97h0" stroke="#1b5a96" stroke-width="1.35" stroke-linecap="round" fill="none"/>
<path d="M492.47 188.54h0M490.69 188.15h0M492.51 187.72h0M491.22 187.17h0M491.54 186.98h0M490.85 186.85h0M491.07 186.81h0M493.38 186.68h0M491.47 186.44h0M490.05 186.13h0M492.78 185.94h0M490.27 185.87h0M491.77 185.58h0M493.05 185.49h0M491.37 185.39h0M489.48 185.38h0M492.82 185.35h0M493.89 185.27h0M492.56 185.21h0M494.00 185.15h0M491.42 185.14h0M489.92 185.05h0M490.58 184.73h0M493.52 184.48h0M494.45 184.46h0M489.87 183.88h0M494.01 183.87h0M493.60 183.74h0M489.47 183.70h0M494.18 183.57h0M490.96 183.49h0M488.71 183.48h0M492.11 183.43h0M489.54 183.36h0M491.93 183.27h0M495.54 183.18h0M488.96 183.11h0M492.06 183.11h0M491.72 183.08h0M488.60 182.94h0M492.59 182.92h0M489.31 182.92h0M495.37 182.83h0M494.90 182.83h0M491.88 182.83h0M489.16 182.64h0M488.14 182.57h0M488.94 182.50h0M491.87 182.45h0M492.45 182.41h0M487.90 182.29h0M494.14 182.27h0M491.46 182.27h0M496.46 182.25h0M490.53 182.25h0M491.21 182.22h0M494.63 182.15h0M490.65 181.97h0M494.63 181.92h0M492.03 181.80h0M487.41 181.79h0M496.03 181.78h0M496.04 181.67h0M487.43 181.65h0M489.70 181.64h0M492.35 181.61h0M487.14 181.55h0M490.51 181.52h0M486.65 181.46h0M491.96 181.44h0M491.40 181.39h0M496.56 181.33h0M495.13 181.31h0M488.92 181.29h0M493.71 181.26h0M496.94 181.25h0M487.24 181.20h0M491.98 181.18h0M487.38 181.08h0M488.66 181.02h0M491.53 181.01h0M485.70 180.94h0M491.37 180.87h0M489.12 180.78h0M486.25 180.74h0M491.99 180.72h0M487.93 180.70h0M487.92 180.68h0M497.04 180.63h0M490.81 180.61h0M492.18 180.59h0M486.66 180.52h0M497.22 180.50h0M492.69 180.38h0M489.03 180.38h0M493.64 180.36h0M493.41 180.36h0M491.42 180.33h0M490.67 180.29h0M486.47 180.20h0M494.89 180.19h0M485.73 180.11h0M486.05 180.10h0M493.19 180.07h0M496.36 180.07h0M496.69 180.05h0M488.03 180.01h0M495.64 179.93h0M487.53 179.93h0M487.65 179.91h0M491.11 179.85h0M492.56 179.85h0M492.00 179.82h0M496.94 179.81h0M491.57 179.80h0M489.82 179.79h0M491.12 179.67h0M487.51 179.53h0M494.48 179.46h0M487.38 179.40h0M491.37 179.36h0M486.27 179.33h0M494.50 179.28h0M489.80 179.19h0M495.34 179.18h0M487.24 179.15h0M491.44 179.15h0M496.50 179.14h0M494.61 179.09h0M487.75 179.08h0M486.31 178.92h0M492.87 178.91h0M497.91 178.90h0M490.35 178.89h0M494.27 178.89h0M493.99 178.89h0M497.89 178.88h0M490.37 178.78h0M486.19 178.67h0M486.31 178.66h0M497.00 178.62h0M487.84 178.61h0M492.71 178.59h0M493.41 178.52h0M496.89 178.49h0M490.61 178.48h0M488.31 178.40h0M496.97 178.38h0M493.10 178.35h0M498.09 178.32h0M495.27 178.14h0M493.76 178.11h0M491.25 178.08h0M485.02 178.08h0M495.85 178.06h0M489.72 177.89h0M485.77 177.81h0M494.75 177.81h0M498.00 177.80h0M494.71 177.75h0M487.31 177.75h0M489.54 177.73h0M489.51 177.69h0M489.02 177.66h0M494.01 177.63h0M494.52 177.60h0M488.69 177.56h0M490.16 177.56h0M489.25 177.52h0M488.42 177.46h0M493.65 177.46h0M495.56 177.46h0M494.43 177.40h0M497.66 177.35h0M497.39 177.35h0M497.67 177.26h0M495.30 177.20h0M489.90 176.99h0M494.81 176.99h0M497.69 176.92h0M488.67 176.92h0M489.67 176.88h0M485.41 176.86h0M496.88 176.81h0M495.45 176.80h0M486.71 176.71h0M490.88 176.68h0M488.89 176.67h0M489.63 176.64h0M490.80 176.60h0M497.29 176.49h0M489.19 176.44h0M492.58 176.41h0M494.74 176.39h0M494.26 176.35h0M485.69 176.30h0M489.64 176.30h0M495.79 176.28h0M487.46 176.17h0M490.97 176.14h0M495.25 176.11h0M487.87 176.07h0M491.46 175.98h0M497.29 175.95h0M486.53 175.93h0M488.91 175.88h0M485.65 175.88h0M486.07 175.83h0M495.41 175.81h0M491.98 175.80h0M493.04 175.75h0M488.63 175.72h0M494.15 175.69h0M487.19 175.67h0M487.88 175.67h0M486.18 175.61h0M497.11 175.58h0M489.49 175.53h0M489.01 175.53h0M490.65 175.43h0M488.34 175.39h0M496.61 175.37h0M488.94 175.31h0M486.09 175.30h0M495.73 175.27h0M494.34 175.25h0M487.80 175.14h0M490.11 175.13h0M487.53 175.09h0M496.35 175.02h0M496.50 175.00h0M486.33 174.93h0M488.27 174.92h0M490.56 174.87h0M493.00 174.84h0M495.45 174.78h0M496.22 174.72h0M496.61 174.70h0M492.46 174.65h0M494.36 174.55h0M496.09 174.54h0M494.33 174.44h0M491.19 174.44h0M495.29 174.40h0M493.04 174.34h0M489.21 174.34h0M486.35 174.30h0M494.54 174.29h0M486.25 174.29h0M494.80 174.22h0M494.67 174.13h0M488.30 173.90h0M495.39 173.84h0M492.21 173.82h0M496.39 173.77h0M496.11 173.63h0M486.67 173.58h0M488.86 173.57h0M494.85 173.57h0M491.88 173.47h0M488.01 173.40h0M491.72 173.39h0M490.06 173.37h0M490.45 173.28h0M487.75 173.15h0M492.65 173.12h0M494.75 172.88h0M490.51 172.84h0M489.85 172.82h0M495.45 172.81h0M492.84 172.80h0M496.12 172.79h0M494.86 172.79h0M488.90 172.68h0M493.46 172.60h0M488.40 172.60h0M488.52 172.46h0M492.86 172.41h0M487.33 172.38h0M489.17 172.32h0M495.82 172.29h0M489.78 172.18h0M493.52 172.09h0M493.42 172.01h0M491.95 171.94h0M494.50 171.76h0M489.08 171.69h0M488.55 171.66h0M494.04 171.53h0M490.33 171.37h0M489.17 171.24h0M491.74 171.14h0M493.11 171.13h0M491.80 171.10h0M494.05 171.00h0M490.39 170.96h0M493.98 170.94h0M494.90 170.94h0M492.25 170.94h0M492.96 170.85h0M492.15 170.82h0M490.03 170.82h0M489.64 170.77h0M493.30 170.61h0M488.91 170.51h0M490.89 170.43h0M490.67 170.05h0M494.44 170.00h0M491.86 169.93h0M489.91 169.91h0M491.15 169.90h0M488.45 169.83h0M490.02 169.77h0M492.86 169.43h0M489.84 169.42h0M490.23 169.30h0M494.41 169.23h0M490.05 169.22h0M492.11 169.09h0M494.82 168.83h0M488.92 168.78h0M491.01 168.76h0M493.56 168.76h0M493.33 168.75h0M492.37 168.56h0M492.92 168.41h0M489.38 168.36h0M488.86 168.35h0M489.27 168.31h0M494.05 168.20h0M489.65 168.08h0M492.75 168.01h0M489.08 167.98h0M493.86 167.76h0M493.16 167.71h0M493.57 167.63h0M494.31 167.54h0M492.42 167.37h0M493.71 167.31h0M494.29 167.21h0M489.44 167.02h0M489.23 166.94h0M492.86 166.86h0M492.04 166.81h0M490.32 166.63h0M492.46 166.44h0M492.29 165.68h0M490.93 165.47h0M489.71 165.44h0M493.65 165.43h0M491.78 165.40h0M489.91 165.38h0M492.82 165.19h0M493.06 164.78h0M491.12 164.72h0M492.72 164.65h0M489.98 164.54h0M492.35 164.53h0M493.30 164.14h0M492.47 163.97h0M490.82 163.61h0M491.25 163.34h0M492.14 162.86h0M491.40 162.71h0M493.16 162.67h0M492.48 162.28h0M491.40 161.68h0M492.20 161.44h0M490.34 161.30h0M491.11 161.29h0M490.26 161.15h0M491.14 161.10h0M490.68 160.89h0M491.56 160.74h0M491.15 160.26h0M490.50 159.80h0M490.76 159.75h0M491.38 159.63h0M491.84 159.58h0M491.06 159.31h0M491.37 159.28h0M492.32 157.62h0M491.47 156.65h0M491.58 156.04h0M491.60 156.03h0M492.13 155.69h0M491.20 155.47h0M491.57 153.43h0M491.84 152.52h0M491.63 150.43h0M491.46 149.97h0M491.49 149.75h0M491.34 148.24h0M491.74 146.78h0M491.89 146.36h0M491.79 144.76h0M491.23 144.49h0M491.80 142.34h0M491.78 142.28h0M491.54 140.33h0" stroke="#33b24a" stroke-width="1.35" stroke-linecap="round" fill="none"/>
<line x1="450.20" y1="183.01" x2="461.80" y2="183.01" stroke="#808080" stroke-width="0.9" />
<line x1="468.20" y1="181.20" x2="479.40" y2="181.20" stroke="#808080" stroke-width="0.9" />
<line x1="486.00" y1="176.39" x2="497.20" y2="176.39" stroke="#808080" stroke-width="0.9" />
<line x1="444.30" y1="133.30" x2="444.30" y2="193.60" stroke="#222" stroke-width="1.0" />
<line x1="443.80" y1="193.60" x2="503.00" y2="193.60" stroke="#222" stroke-width="1.0" />
<line x1="441.30" y1="193.60" x2="444.30" y2="193.60" stroke="#222" stroke-width="0.7" />
<text x="439.00" y="196.19" font-size="7.4" text-anchor="end" fill="#555" >0</text>
<line x1="441.30" y1="173.50" x2="444.30" y2="173.50" stroke="#222" stroke-width="0.7" />
<text x="439.00" y="176.09" font-size="7.4" text-anchor="end" fill="#555" >100</text>
<line x1="441.30" y1="153.40" x2="444.30" y2="153.40" stroke="#222" stroke-width="0.7" />
<text x="439.00" y="155.99" font-size="7.4" text-anchor="end" fill="#555" >200</text>
<line x1="441.30" y1="133.30" x2="444.30" y2="133.30" stroke="#222" stroke-width="0.7" />
<text x="439.00" y="135.89" font-size="7.4" text-anchor="end" fill="#555" >300</text>
<line x1="456.00" y1="193.60" x2="456.00" y2="196.20" stroke="#222" stroke-width="0.7" />
<line x1="474.00" y1="193.60" x2="474.00" y2="196.20" stroke="#222" stroke-width="0.7" />
<line x1="492.20" y1="193.60" x2="492.20" y2="196.20" stroke="#222" stroke-width="0.7" />
<path d="M456.0,129.5 V121.2 H491.6 V125" fill="none" stroke="#222" stroke-width="0.9"/>
<path d="M456.0,146 V133.2 H472.6 V143" fill="none" stroke="#222" stroke-width="0.9"/>
<path d="M474.9,143 V133.2 H491.6 V137" fill="none" stroke="#222" stroke-width="0.9"/>
<path d="M470.25,115.85V118.15M469.25,116.42L471.25,117.58M469.25,117.58L471.25,116.42" stroke="#333" stroke-width="0.75" fill="none"/><path d="M473.05,115.85V118.15M472.05,116.42L474.05,117.58M472.05,117.58L474.05,116.42" stroke="#333" stroke-width="0.75" fill="none"/><path d="M475.85,115.85V118.15M474.85,116.42L476.85,117.58M474.85,117.58L476.85,116.42" stroke="#333" stroke-width="0.75" fill="none"/><path d="M478.65,115.85V118.15M477.65,116.42L479.65,117.58M477.65,117.58L479.65,116.42" stroke="#333" stroke-width="0.75" fill="none"/>
<path d="M465.20,127.55V129.85M464.20,128.12L466.20,129.28M464.20,129.28L466.20,128.12" stroke="#333" stroke-width="0.75" fill="none"/>
<path d="M479.65,127.55V129.85M478.65,128.12L480.65,129.28M478.65,129.28L480.65,128.12" stroke="#333" stroke-width="0.75" fill="none"/><path d="M482.32,127.55V129.85M481.32,128.12L483.32,129.28M481.32,129.28L483.32,128.12" stroke="#333" stroke-width="0.75" fill="none"/><path d="M484.98,127.55V129.85M483.98,128.12L485.98,129.28M483.98,129.28L485.98,128.12" stroke="#333" stroke-width="0.75" fill="none"/><path d="M487.65,127.55V129.85M486.65,128.12L488.65,129.28M486.65,129.28L488.65,128.12" stroke="#333" stroke-width="0.75" fill="none"/>
<text transform="translate(418.60,164.50) rotate(-90)" x="0" y="3.15" font-size="9.0" text-anchor="middle" fill="#222" textLength="54.8" lengthAdjust="spacingAndGlyphs" stroke="#222" stroke-width="0.28">Day 1 PB CD34 /μL</text>

<text transform="translate(457,199.8) rotate(-45)" x="0" y="2.3" font-size="6.6" text-anchor="end" fill="#444">Normal</text>
<text transform="translate(475,199.8) rotate(-45)" x="0" y="2.3" font-size="6.6" text-anchor="end" fill="#444">Overweight</text>
<text transform="translate(493.5,199.5) rotate(-45)" x="0" y="2.3" font-size="6.6" text-anchor="end" fill="#444">Obese</text>
<text x="121.20" y="256.51" font-size="8.6" text-anchor="middle" fill="#222" font-weight="bold" textLength="41.8" lengthAdjust="spacingAndGlyphs" >ROC curve</text>
<polyline points="55.70,363.30 95.81,313.76 197.95,266.55" fill="none" stroke="#8a86d0" stroke-width="1.3" stroke-linejoin="round" />
<circle cx="95.81" cy="313.76" r="1.0" fill="#8a86d0"/>
<polyline points="55.70,363.30 93.82,299.15 197.95,266.55" fill="none" stroke="#1f5a99" stroke-width="1.3" stroke-linejoin="round" />
<circle cx="93.82" cy="299.15" r="1.0" fill="#1f5a99"/>
<polyline points="55.70,363.30 63.10,289.96 197.95,266.55" fill="none" stroke="#5b2a86" stroke-width="1.3" stroke-linejoin="round" />
<circle cx="63.10" cy="289.96" r="1.0" fill="#5b2a86"/>
<polyline points="55.70,363.30 71.21,288.90 197.95,266.55" fill="none" stroke="#ff8c1a" stroke-width="1.3" stroke-linejoin="round" />
<circle cx="71.21" cy="288.90" r="1.0" fill="#ff8c1a"/>
<polyline points="55.70,363.30 67.65,280.48 197.95,266.55" fill="none" stroke="#2ca02c" stroke-width="1.3" stroke-linejoin="round" />
<circle cx="67.65" cy="280.48" r="1.0" fill="#2ca02c"/>
<polyline points="55.70,363.30 82.30,295.09 197.95,266.55" fill="none" stroke="#d0103a" stroke-width="1.3" stroke-linejoin="round" stroke-dasharray="1.5 1.0"/>
<circle cx="82.30" cy="295.09" r="1.0" fill="#d0103a"/>
<rect x="49.20" y="261.40" width="154.50" height="106.00" fill="none" stroke="#333" stroke-width="0.9" />
<line x1="46.20" y1="363.30" x2="49.20" y2="363.30" stroke="#222" stroke-width="0.7" />
<text x="43.00" y="366.10" font-size="8.0" text-anchor="end" fill="#555" >0.0</text>
<line x1="55.70" y1="367.40" x2="55.70" y2="370.40" stroke="#222" stroke-width="0.7" />
<text x="55.70" y="379.90" font-size="8.0" text-anchor="middle" fill="#555" >0.0</text>
<line x1="46.20" y1="343.95" x2="49.20" y2="343.95" stroke="#222" stroke-width="0.7" />
<text x="43.00" y="346.75" font-size="8.0" text-anchor="end" fill="#555" >0.2</text>
<line x1="84.15" y1="367.40" x2="84.15" y2="370.40" stroke="#222" stroke-width="0.7" />
<text x="84.15" y="379.90" font-size="8.0" text-anchor="middle" fill="#555" >0.2</text>
<line x1="46.20" y1="324.60" x2="49.20" y2="324.60" stroke="#222" stroke-width="0.7" />
<text x="43.00" y="327.40" font-size="8.0" text-anchor="end" fill="#555" >0.4</text>
<line x1="112.60" y1="367.40" x2="112.60" y2="370.40" stroke="#222" stroke-width="0.7" />
<text x="112.60" y="379.90" font-size="8.0" text-anchor="middle" fill="#555" >0.4</text>
<line x1="46.20" y1="305.25" x2="49.20" y2="305.25" stroke="#222" stroke-width="0.7" />
<text x="43.00" y="308.05" font-size="8.0" text-anchor="end" fill="#555" >0.6</text>
<line x1="141.05" y1="367.40" x2="141.05" y2="370.40" stroke="#222" stroke-width="0.7" />
<text x="141.05" y="379.90" font-size="8.0" text-anchor="middle" fill="#555" >0.6</text>
<line x1="46.20" y1="285.90" x2="49.20" y2="285.90" stroke="#222" stroke-width="0.7" />
<text x="43.00" y="288.70" font-size="8.0" text-anchor="end" fill="#555" >0.8</text>
<line x1="169.50" y1="367.40" x2="169.50" y2="370.40" stroke="#222" stroke-width="0.7" />
<text x="169.50" y="379.90" font-size="8.0" text-anchor="middle" fill="#555" >0.8</text>
<line x1="46.20" y1="266.55" x2="49.20" y2="266.55" stroke="#222" stroke-width="0.7" />
<text x="43.00" y="269.35" font-size="8.0" text-anchor="end" fill="#555" >1.0</text>
<line x1="197.95" y1="367.40" x2="197.95" y2="370.40" stroke="#222" stroke-width="0.7" />
<text x="197.95" y="379.90" font-size="8.0" text-anchor="middle" fill="#555" >1.0</text>
<text x="125.10" y="391.07" font-size="8.2" text-anchor="middle" fill="#222" textLength="50.2" lengthAdjust="spacingAndGlyphs" stroke="#222" stroke-width="0.28">False positive rate</text>
<text transform="translate(24.20,315.90) rotate(-90)" x="0" y="2.87" font-size="8.2" text-anchor="middle" fill="#222" textLength="47.4" lengthAdjust="spacingAndGlyphs" stroke="#222" stroke-width="0.28">True positive rate</text>
<rect x="110.00" y="307.80" width="91.20" height="54.90" fill="#ffffff" stroke="#cccccc" stroke-width="0.6" fill-opacity="0.85" rx="1"/>
<line x1="112.00" y1="312.50" x2="122.80" y2="312.50" stroke="#d0103a" stroke-width="1.3" stroke-dasharray="1.5 1.0"/>
<circle cx="117.4" cy="312.50" r="1.0" fill="#d0103a"/>
<text x="125.60" y="314.81" font-size="6.6" text-anchor="start" fill="#444" textLength="35.6" lengthAdjust="spacingAndGlyphs" >Decision tree</text>
<line x1="112.00" y1="320.28" x2="122.80" y2="320.28" stroke="#1f5a99" stroke-width="1.3" />
<circle cx="117.4" cy="320.28" r="1.0" fill="#1f5a99"/>
<text x="125.60" y="322.59" font-size="6.6" text-anchor="start" fill="#444" textLength="47.5" lengthAdjust="spacingAndGlyphs" >Linear regression</text>
<line x1="112.00" y1="328.06" x2="122.80" y2="328.06" stroke="#2ca02c" stroke-width="1.3" />
<circle cx="117.4" cy="328.06" r="1.0" fill="#2ca02c"/>
<text x="125.60" y="330.37" font-size="6.6" text-anchor="start" fill="#444" textLength="40.4" lengthAdjust="spacingAndGlyphs" >Random forest</text>
<line x1="112.00" y1="335.84" x2="122.80" y2="335.84" stroke="#5b2a86" stroke-width="1.3" />
<circle cx="117.4" cy="335.84" r="1.0" fill="#5b2a86"/>
<text x="125.60" y="338.15" font-size="6.6" text-anchor="start" fill="#444" textLength="13.8" lengthAdjust="spacingAndGlyphs" >SVM</text>
<line x1="112.00" y1="343.62" x2="122.80" y2="343.62" stroke="#ff8c1a" stroke-width="1.3" />
<circle cx="117.4" cy="343.62" r="1.0" fill="#ff8c1a"/>
<text x="125.60" y="345.93" font-size="6.6" text-anchor="start" fill="#444" textLength="13.9" lengthAdjust="spacingAndGlyphs" >FNN</text>
<line x1="112.00" y1="351.40" x2="122.80" y2="351.40" stroke="#7cc4b0" stroke-width="1.3" stroke-dasharray="1.5 1.0"/>
<circle cx="117.4" cy="351.40" r="1.0" fill="#1d5c4a"/>
<text x="125.60" y="353.71" font-size="6.6" text-anchor="start" fill="#444" textLength="27.5" lengthAdjust="spacingAndGlyphs" >AdaBoost</text>
<line x1="112.00" y1="359.18" x2="122.80" y2="359.18" stroke="#8a86d0" stroke-width="1.3" />
<circle cx="117.4" cy="359.18" r="1.0" fill="#8a86d0"/>
<text x="125.60" y="361.49" font-size="6.6" text-anchor="start" fill="#444" textLength="50.4" lengthAdjust="spacingAndGlyphs" >Gradient boosting</text>
<text x="361.00" y="251.71" font-size="8.6" text-anchor="middle" fill="#222" font-weight="bold" textLength="78.1" lengthAdjust="spacingAndGlyphs" >Model performance</text>
<rect x="279.80" y="277.99" width="5.70" height="90.61" fill="#d23f5a" stroke="#333" stroke-width="0.55" />
<rect x="285.50" y="285.04" width="5.70" height="83.56" fill="#3a73a8" stroke="#333" stroke-width="0.55" />
<rect x="291.20" y="262.48" width="5.70" height="106.12" fill="#5ccc6a" stroke="#333" stroke-width="0.55" />
<rect x="296.90" y="267.01" width="5.70" height="101.59" fill="#7d4a94" stroke="#333" stroke-width="0.55" />
<rect x="302.60" y="270.24" width="5.70" height="98.36" fill="#ffa640" stroke="#333" stroke-width="0.55" />
<rect x="308.30" y="263.67" width="5.70" height="104.93" fill="#2a7f6c" stroke="#333" stroke-width="0.55" />
<rect x="314.00" y="296.02" width="5.70" height="72.58" fill="#a7a0d8" stroke="#333" stroke-width="0.55" />
<rect x="336.50" y="279.90" width="5.70" height="88.70" fill="#d23f5a" stroke="#333" stroke-width="0.55" />
<rect x="342.20" y="287.31" width="5.70" height="81.29" fill="#3a73a8" stroke="#333" stroke-width="0.55" />
<rect x="347.90" y="263.67" width="5.70" height="104.93" fill="#5ccc6a" stroke="#333" stroke-width="0.55" />
<rect x="353.60" y="269.76" width="5.70" height="98.84" fill="#7d4a94" stroke="#333" stroke-width="0.55" />
<rect x="359.30" y="272.14" width="5.70" height="96.46" fill="#ffa640" stroke="#333" stroke-width="0.55" />
<rect x="365.00" y="264.39" width="5.70" height="104.21" fill="#2a7f6c" stroke="#333" stroke-width="0.55" />
<rect x="370.70" y="304.02" width="5.70" height="64.58" fill="#a7a0d8" stroke="#333" stroke-width="0.55" />
<rect x="393.30" y="278.23" width="5.70" height="90.37" fill="#d23f5a" stroke="#333" stroke-width="0.55" />
<rect x="399.00" y="285.16" width="5.70" height="83.44" fill="#3a73a8" stroke="#333" stroke-width="0.55" />
<rect x="404.70" y="263.31" width="5.70" height="105.29" fill="#5ccc6a" stroke="#333" stroke-width="0.55" />
<rect x="410.40" y="267.25" width="5.70" height="101.35" fill="#7d4a94" stroke="#333" stroke-width="0.55" />
<rect x="416.10" y="270.24" width="5.70" height="98.36" fill="#ffa640" stroke="#333" stroke-width="0.55" />
<rect x="421.80" y="263.67" width="5.70" height="104.93" fill="#2a7f6c" stroke="#333" stroke-width="0.55" />
<rect x="427.50" y="296.14" width="5.70" height="72.46" fill="#a7a0d8" stroke="#333" stroke-width="0.55" />
<rect x="272.30" y="257.50" width="168.80" height="111.10" fill="none" stroke="#444" stroke-width="0.9" />
<line x1="269.20" y1="368.60" x2="272.30" y2="368.60" stroke="#222" stroke-width="0.7" />
<text x="266.50" y="371.26" font-size="7.6" text-anchor="end" fill="#555" >0.0</text>
<line x1="269.20" y1="344.73" x2="272.30" y2="344.73" stroke="#222" stroke-width="0.7" />
<text x="266.50" y="347.39" font-size="7.6" text-anchor="end" fill="#555" >0.2</text>
<line x1="269.20" y1="320.85" x2="272.30" y2="320.85" stroke="#222" stroke-width="0.7" />
<text x="266.50" y="323.51" font-size="7.6" text-anchor="end" fill="#555" >0.4</text>
<line x1="269.20" y1="296.98" x2="272.30" y2="296.98" stroke="#222" stroke-width="0.7" />
<text x="266.50" y="299.64" font-size="7.6" text-anchor="end" fill="#555" >0.6</text>
<line x1="269.20" y1="273.10" x2="272.30" y2="273.10" stroke="#222" stroke-width="0.7" />
<text x="266.50" y="275.76" font-size="7.6" text-anchor="end" fill="#555" >0.8</text>
<line x1="296.90" y1="368.60" x2="296.90" y2="371.30" stroke="#222" stroke-width="0.7" />
<text x="294.40" y="379.46" font-size="7.6" text-anchor="middle" fill="#444" textLength="29.06" lengthAdjust="spacingAndGlyphs" >Accuracy</text>
<line x1="353.60" y1="368.60" x2="353.60" y2="371.30" stroke="#222" stroke-width="0.7" />
<text x="353.50" y="379.46" font-size="7.6" text-anchor="middle" fill="#444" textLength="8.25" lengthAdjust="spacingAndGlyphs" >F1</text>
<line x1="410.40" y1="368.60" x2="410.40" y2="371.30" stroke="#222" stroke-width="0.7" />
<text x="410.30" y="379.46" font-size="7.6" text-anchor="middle" fill="#444" textLength="14.92" lengthAdjust="spacingAndGlyphs" >AUC</text>
<text x="356.90" y="390.23" font-size="7.8" text-anchor="middle" fill="#222" textLength="90" lengthAdjust="spacingAndGlyphs" stroke="#222" stroke-width="0.28">Comparison of different metrics</text>
<text transform="translate(246.70,313.70) rotate(-90)" x="0" y="3.01" font-size="8.6" text-anchor="middle" fill="#222" textLength="36.2" lengthAdjust="spacingAndGlyphs" stroke="#222" stroke-width="0.28">Performance</text>
<rect x="443.60" y="310.20" width="68.10" height="56.10" fill="#ffffff" stroke="#d0d0d0" stroke-width="0.6" rx="1"/>
<rect x="445.50" y="312.60" width="10.60" height="4.00" fill="#d23f5a" stroke="#333" stroke-width="0.55" />
<text x="458.00" y="316.81" font-size="6.3" text-anchor="start" fill="#444" textLength="36.1" lengthAdjust="spacingAndGlyphs" >Decision tree</text>
<rect x="445.50" y="320.35" width="10.60" height="4.00" fill="#3a73a8" stroke="#333" stroke-width="0.55" />
<text x="458.00" y="324.56" font-size="6.3" text-anchor="start" fill="#444" textLength="47.7" lengthAdjust="spacingAndGlyphs" >Linear regression</text>
<rect x="445.50" y="328.10" width="10.60" height="4.00" fill="#5ccc6a" stroke="#333" stroke-width="0.55" />
<text x="458.00" y="332.31" font-size="6.3" text-anchor="start" fill="#444" textLength="40.4" lengthAdjust="spacingAndGlyphs" >Random forest</text>
<rect x="445.50" y="335.85" width="10.60" height="4.00" fill="#7d4a94" stroke="#333" stroke-width="0.55" />
<text x="458.00" y="340.06" font-size="6.3" text-anchor="start" fill="#444" textLength="13.1" lengthAdjust="spacingAndGlyphs" >SVM</text>
<rect x="445.50" y="343.60" width="10.60" height="4.00" fill="#ffa640" stroke="#333" stroke-width="0.55" />
<text x="458.00" y="347.81" font-size="6.3" text-anchor="start" fill="#444" textLength="13.9" lengthAdjust="spacingAndGlyphs" >FNN</text>
<rect x="445.50" y="351.35" width="10.60" height="4.00" fill="#2a7f6c" stroke="#333" stroke-width="0.55" />
<text x="458.00" y="355.56" font-size="6.3" text-anchor="start" fill="#444" textLength="27" lengthAdjust="spacingAndGlyphs" >AdaBoost</text>
<rect x="445.50" y="359.10" width="10.60" height="4.00" fill="#a7a0d8" stroke="#333" stroke-width="0.55" />
<text x="458.00" y="363.31" font-size="6.3" text-anchor="start" fill="#444" textLength="50.1" lengthAdjust="spacingAndGlyphs" >Gradient boosting</text>
</svg>
</body></html>
